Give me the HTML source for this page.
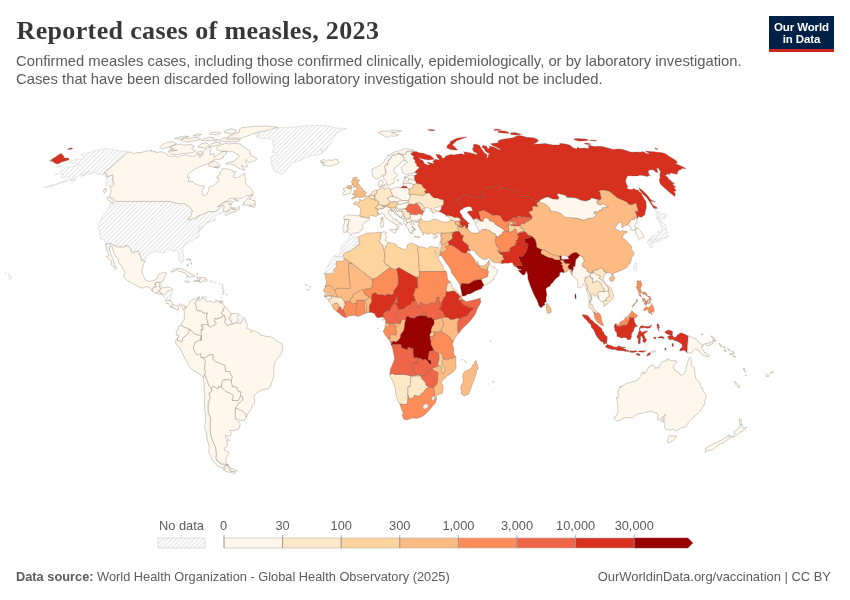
<!DOCTYPE html>
<html lang="en">
<head>
<meta charset="utf-8">
<title>Reported cases of measles, 2023</title>
<style>
  html, body { margin: 0; padding: 0; background: #fff; }
  body { width: 850px; height: 600px; position: relative; overflow: hidden;
         font-family: "Liberation Sans", sans-serif; color: #5b5b5b; }
  .title { position: absolute; left: 16.5px; top: 14.6px; margin: 0; white-space: nowrap;
           font-family: "Liberation Serif", serif; font-weight: bold; font-size: 26px;
           line-height: 32px; color: #373737; letter-spacing: 0.36px; }
  .subtitle { position: absolute; left: 16px; top: 52.2px; margin: 0; white-space: nowrap;
           font-size: 14.8px; line-height: 18px; color: #5b5b5b; }
  .subtitle span { display: block; }
  .logo { position: absolute; left: 769px; top: 16px; width: 65px; height: 35.8px;
          background: linear-gradient(to bottom, #002147 0, #002147 33.1px, #ce261e 33.1px, #ce261e 100%); color: #fff;
          font-weight: bold; font-size: 11.5px; line-height: 12px; text-align: center;
          letter-spacing: -0.12px; }
  .logo span { display: block; }
  .logo span:first-child { padding-top: 5.1px; }
  #map { position: absolute; left: 0; top: 0; width: 850px; height: 600px; }
  .legend text { font-family: "Liberation Sans", sans-serif; font-size: 12.8px; fill: #5b5b5b; }
  .footer { position: absolute; top: 568.6px; font-size: 12.8px; line-height: 16px; color: #5b5b5b; white-space: nowrap; }
  .footer.l { left: 16px; }
  .footer.r { right: 19px; font-size: 12.95px; }
  .footer b { font-weight: bold; }
</style>
</head>
<body>
<h1 class="title">Reported cases of measles, 2023</h1>
<p class="subtitle"><span id="s1">Confirmed measles cases, including those confirmed clinically, epidemiologically, or by laboratory investigation.</span><span id="s2">Cases that have been discarded following laboratory investigation should not be included.</span></p>
<div class="logo"><span>Our World</span><span>in Data</span></div>
<svg id="map" width="850" height="600" viewBox="0 0 850 600">
<defs>
  <pattern id="hatch" patternUnits="userSpaceOnUse" width="4.47" height="4.47">
    <rect width="4.47" height="4.47" fill="#fff"/>
    <path d="M-1,1 l2,-2 M0,4.47 l4.47,-4.47 M3.47,5.47 l2,-2" stroke="#dfdfdf" stroke-width="0.95" fill="none"/>
  </pattern>
</defs>
<g stroke="#56463e" stroke-opacity="0.6" stroke-width="0.45" stroke-linejoin="round">
<path d="M350.1,235.5 351.4,235.2 353.3,237.0 356.4,236.8 358.1,237.3 359.0,238.9 359.2,241.5 360.0,244.6 356.5,245.4 355.0,248.0 352.1,249.3 351.2,250.9 348.5,251.7 346.0,252.2 343.6,254.0 343.6,256.7 333.7,256.7 334.1,256.0 337.6,254.5 340.3,252.2 341.7,249.5 341.1,249.0 341.4,246.7 342.6,244.6 344.3,242.1 346.3,241.2 347.9,240.1 349.5,237.0Z" fill="url(#hatch)" stroke="#c6c6c6" stroke-opacity="1"/>
<path d="M358.1,237.3 360.7,235.7 362.9,235.2 365.7,233.6 369.4,232.9 373.7,232.9 378.0,232.3 381.5,232.6 380.9,235.0 380.8,238.3 379.3,240.7 381.1,244.1 382.8,245.1 383.9,250.0 384.9,252.7 384.7,255.1 385.0,258.7 383.9,260.6 385.9,264.7 388.8,265.5 389.9,267.6 376.1,278.2 372.5,279.0 370.2,279.1 370.2,277.3 365.6,274.9 365.5,273.9 352.1,263.7 343.5,257.7 343.6,256.7 343.6,254.0 346.0,252.2 348.5,251.7 351.2,250.9 352.1,249.3 355.0,248.0 356.5,245.4 360.0,244.6 359.2,241.5 359.0,238.9Z" fill="#fdd49e"/>
<path d="M381.5,232.6 384.0,231.6 385.1,232.1 386.6,232.3 385.8,233.9 385.7,235.7 387.0,237.0 386.2,238.3 385.0,240.2 387.0,241.2 388.1,242.4 388.2,243.8 385.6,246.2 385.7,248.3 383.9,250.0 382.8,245.1 381.1,244.1 379.3,240.7 380.8,238.3 380.9,235.0Z" fill="#fff7ec"/>
<path d="M388.1,242.4 391.9,243.0 396.3,244.4 397.5,247.0 401.6,248.3 405.0,249.8 407.1,248.0 407.1,245.1 410.3,243.0 413.6,243.8 418.0,245.9 418.4,246.6 417.6,250.1 418.4,252.7 419.4,271.5 419.6,276.7 417.3,276.7 417.3,278.1 398.9,267.7 396.7,268.9 394.9,270.0 389.9,267.6 388.8,265.5 385.9,264.7 383.9,260.6 385.0,258.7 384.7,255.1 384.9,252.7 383.9,250.0 385.7,248.3 385.6,246.2 388.2,243.8Z" fill="#fdd49e"/>
<path d="M418.4,246.6 422.9,247.0 427.0,248.4 428.9,247.5 431.2,246.4 434.2,247.2 437.5,247.7 438.5,247.2 440.3,251.9 440.0,253.5 439.6,255.8 439.3,256.6 437.7,255.1 436.7,253.5 435.4,251.4 435.0,250.8 434.7,251.7 435.5,253.5 436.6,255.3 438.4,257.8 438.8,259.1 439.7,260.8 441.3,263.6 443.5,266.6 442.9,268.6 445.6,271.0 446.2,271.5 433.8,271.5 419.4,271.5 418.4,252.7 417.6,250.1Z" fill="#fdd49e"/>
<path d="M446.2,271.5 447.1,274.1 447.3,277.8 447.9,279.9 450.5,282.0 447.2,284.3 446.3,289.6 446.3,291.6 445.7,295.8 443.4,298.2 443.1,300.5 441.7,301.6 441.3,304.3 440.8,304.2 438.9,301.0 439.0,297.1 436.5,297.6 437.2,298.4 436.1,301.6 434.1,303.5 430.9,302.6 429.5,303.7 427.3,304.6 423.8,304.2 420.3,302.1 419.2,306.3 417.9,306.3 416.9,302.6 415.4,300.5 413.8,295.8 412.8,295.6 414.4,292.2 415.2,288.2 417.7,288.0 417.3,278.1 417.3,276.7 419.6,276.7 419.4,271.5 433.8,271.5Z" fill="#fc8d59"/>
<path d="M450.5,282.0 453.0,288.2 454.5,289.0 456.5,290.6 458.3,292.6 460.8,295.0 461.6,295.8 460.1,296.4 457.2,293.5 454.8,291.2 452.3,290.9 450.7,291.4 448.9,291.9 446.3,291.6 446.3,289.6 447.2,284.3Z" fill="#fee8c8"/>
<path d="M461.6,295.8 462.2,297.6 460.6,298.7 461.9,298.7 462.1,299.1 461.5,300.3 458.8,300.3 458.7,299.0 460.1,296.4Z" fill="#fdbb84"/>
<path d="M462.1,299.1 462.7,299.3 466.2,301.7 469.6,300.9 473.5,299.9 475.8,299.5 478.3,298.7 480.5,298.1 480.2,299.7 480.9,301.7 479.9,304.2 477.5,308.1 476.6,310.8 474.7,315.0 471.3,319.6 467.5,323.7 464.4,326.4 461.1,329.9 458.9,333.3 457.5,331.4 457.5,321.7 459.5,318.6 463.2,316.5 466.6,315.9 473.3,308.1 470.8,308.1 464.1,305.5 461.2,302.4 461.5,300.3Z" fill="#ef6548"/>
<path d="M458.9,333.3 457.3,335.0 455.4,337.4 454.4,339.6 453.3,341.2 450.1,338.7 449.6,336.8 441.1,331.6 441.6,328.0 443.7,324.6 442.5,320.9 441.2,318.0 445.7,317.0 448.0,317.4 450.8,319.6 454.7,318.9 457.0,317.9 459.5,318.6 457.5,321.7 457.5,331.4Z" fill="#fdbb84"/>
<path d="M453.3,341.2 453.0,342.3 452.3,344.7 453.4,346.8 453.8,349.4 453.5,352.4 454.1,355.1 455.2,355.9 455.8,356.4 453.1,358.3 450.1,358.5 446.6,359.6 443.1,359.2 442.3,357.7 442.2,355.1 441.0,353.8 438.6,353.6 436.5,352.5 433.7,350.4 432.0,346.8 430.9,344.7 430.7,340.6 433.0,338.4 434.0,335.1 434.0,333.4 433.2,331.8 441.1,331.6 449.6,336.8 450.1,338.7Z" fill="#fc8d59"/>
<path d="M455.8,356.4 456.0,359.0 455.8,362.9 456.2,366.4 456.0,368.3 453.9,371.3 450.6,373.9 447.1,376.0 445.4,378.1 442.0,380.8 441.5,382.6 442.7,385.2 443.1,386.7 442.8,391.4 442.2,393.3 438.3,394.8 435.9,396.8 436.5,397.7 436.4,399.1 434.4,399.1 434.6,396.8 434.6,392.5 433.5,387.5 436.4,384.6 437.7,380.7 437.6,377.3 437.9,372.6 434.3,370.8 432.3,369.8 432.4,368.2 438.4,365.7 438.8,365.6 441.6,366.6 441.7,368.2 441.4,371.6 443.3,373.8 444.6,370.8 444.9,367.9 441.6,364.0 442.2,360.4 443.1,359.2 446.6,359.6 450.1,358.5 453.1,358.3Z" fill="#fdbb84"/>
<path d="M436.4,399.1 435.1,403.2 434.3,404.2 431.7,407.0 430.2,409.3 428.0,411.6 424.1,415.2 421.7,416.8 418.8,417.7 417.1,418.3 414.0,418.0 411.2,418.3 406.4,420.0 405.0,419.4 403.9,418.9 403.2,418.8 403.1,417.6 402.1,415.2 403.2,412.9 401.2,408.4 400.4,405.4 399.5,403.8 401.6,404.0 405.1,404.6 407.4,403.2 407.8,393.7 409.4,399.1 413.5,397.2 414.5,395.1 418.9,396.3 420.8,394.3 423.2,392.2 426.0,388.6 429.2,387.0 433.5,387.5 434.6,392.5 434.6,396.8 433.1,396.3 431.8,399.0 432.6,400.3 434.4,399.1ZM426.6,403.7 424.9,404.5 422.8,406.5 423.5,408.2 425.2,409.1 427.5,407.2 428.3,405.7Z" fill="#fc8d59"/>
<path d="M399.5,403.8 396.8,398.6 395.5,393.0 395.6,389.0 394.4,385.9 393.0,382.0 390.2,376.8 389.7,374.1 392.5,373.4 394.8,374.5 405.0,374.5 411.6,375.9 416.2,375.1 418.0,374.7 420.4,375.5 418.6,376.2 415.9,376.0 410.6,376.8 410.3,386.5 408.1,386.5 407.8,393.7 407.4,403.2 405.1,404.6 401.6,404.0Z" fill="#fee8c8"/>
<path d="M390.7,368.7 393.6,361.9 394.7,358.3 393.3,352.1 393.0,349.5 392.5,347.9 391.3,345.0 391.2,344.7 391.3,344.7 393.1,344.3 401.1,344.3 401.8,347.8 407.5,349.6 407.8,347.3 409.6,347.0 410.3,348.1 413.1,348.1 413.3,350.9 413.4,354.6 414.1,357.7 417.8,357.5 417.9,357.4 417.9,363.0 413.3,363.0 413.1,371.3 416.2,375.1 411.6,375.9 405.0,374.5 394.8,374.5 392.5,373.4 389.7,374.1ZM391.0,343.5 390.4,342.1 390.6,342.1 391.9,340.8 392.9,341.7 391.7,343.9 391.0,344.0Z" fill="#ef6548"/>
<path d="M391.2,344.7 391.0,344.4 391.0,344.0 391.7,343.9 392.9,341.7 393.1,341.0 396.1,341.7 398.2,340.2 400.3,337.6 400.3,334.7 403.5,330.6 404.1,328.2 404.7,322.7 405.8,319.9 405.7,317.8 407.8,315.7 410.4,317.5 414.5,318.2 415.7,316.7 419.1,315.7 421.7,315.2 426.2,315.8 428.4,317.8 430.9,316.9 434.0,319.9 434.4,323.8 431.9,327.4 431.2,330.6 431.2,332.6 430.0,334.0 429.8,336.1 430.2,338.1 430.7,340.6 430.9,344.7 432.0,346.8 433.7,350.4 429.4,351.2 428.8,354.1 428.0,359.8 431.2,360.7 431.1,364.0 429.5,364.0 428.0,361.7 425.3,359.3 422.5,360.1 420.9,358.5 418.7,358.5 417.9,357.4 417.8,357.5 414.1,357.7 413.4,354.6 413.3,350.9 413.1,348.1 410.3,348.1 409.6,347.0 407.8,347.3 407.5,349.6 401.8,347.8 401.1,344.3 393.1,344.3 391.3,344.7Z" fill="#990000"/>
<path d="M390.4,342.1 390.2,341.5 388.5,339.3 390.3,338.4 389.7,336.3 390.6,335.3 391.7,334.2 395.4,335.3 396.1,334.0 396.4,330.6 395.0,329.0 396.4,326.9 395.9,325.6 393.4,325.6 393.6,323.4 396.4,323.3 397.5,323.8 400.3,323.3 401.2,319.9 402.8,319.6 405.8,319.9 404.7,322.7 404.1,328.2 403.5,330.6 400.3,334.7 400.3,337.6 398.2,340.2 396.1,341.7 393.1,341.0 392.9,341.7 391.9,340.8 390.6,342.1Z" fill="#fdbb84"/>
<path d="M388.5,339.3 387.5,337.9 385.4,335.5 383.0,330.6 384.4,329.8 384.7,328.0 385.1,326.4 385.5,326.4 389.1,326.4 389.1,323.3 391.3,323.0 393.6,323.4 393.4,325.6 395.9,325.6 396.4,326.9 395.0,329.0 396.4,330.6 396.1,334.0 395.4,335.3 391.7,334.2 390.6,335.3 389.7,336.3 390.3,338.4Z" fill="#fc8d59"/>
<path d="M385.4,324.1 385.5,322.9 389.1,323.3 389.1,326.4 385.5,326.4 385.1,326.4ZM383.0,319.2 383.6,319.9 383.0,320.5 382.3,319.9Z" fill="#fdbb84"/>
<path d="M385.5,322.9 385.7,321.3 384.8,318.8 384.1,318.5 383.4,317.2 382.7,317.2 383.4,313.8 385.5,311.2 387.3,310.7 390.1,310.5 391.0,307.1 393.2,303.9 395.5,299.7 396.4,297.1 395.1,294.8 397.1,297.1 397.6,300.5 398.5,302.9 395.1,303.1 397.9,306.8 398.5,309.4 396.5,312.8 396.3,315.9 397.5,318.8 400.0,321.4 400.3,323.3 397.5,323.8 396.4,323.3 393.6,323.4 391.3,323.0 389.1,323.3Z" fill="#ef6548"/>
<path d="M382.7,317.2 382.0,317.1 379.0,317.5 377.2,317.8 375.2,315.0 374.2,313.3 370.7,312.3 369.2,312.4 369.3,305.5 371.6,301.6 371.2,298.4 371.4,296.3 372.3,293.7 375.5,292.8 378.7,295.0 381.2,294.3 384.9,295.6 387.4,294.1 391.5,294.8 394.0,293.2 395.1,294.8 396.4,297.1 395.5,299.7 393.2,303.9 391.0,307.1 390.1,310.5 387.3,310.7 385.5,311.2 383.4,313.8Z" fill="#d7301f"/>
<path d="M369.2,312.4 368.5,312.4 367.0,312.7 367.0,312.7 366.6,311.0 366.6,305.5 364.7,302.1 365.0,300.3 368.4,297.9 369.4,296.9 371.2,298.4 371.6,301.6 369.3,305.5Z" fill="#fdbb84"/>
<path d="M367.0,312.7 365.7,313.0 365.7,313.0 365.7,313.0 364.3,309.7 364.0,304.4 362.9,301.3 362.6,300.0 365.0,300.3 364.7,302.1 366.6,305.5 366.6,311.0 367.0,312.7Z" fill="#fdbb84"/>
<path d="M365.7,313.0 365.2,313.6 362.4,314.5 360.0,315.7 358.9,316.2 358.1,316.6 355.8,315.7 356.6,314.4 355.5,311.2 356.7,308.1 356.6,303.8 356.5,300.3 362.6,300.0 362.9,301.3 364.0,304.4 364.3,309.7 365.7,313.0Z" fill="#fc8d59"/>
<path d="M355.8,315.7 353.7,315.3 348.8,316.1 346.0,317.5 345.5,317.5 345.5,316.2 345.6,313.6 343.8,312.0 343.4,309.2 344.0,306.8 345.2,304.4 344.6,302.4 348.7,301.0 350.2,301.8 352.1,303.7 355.5,303.1 356.6,303.8 356.7,308.1 355.5,311.2 356.6,314.4Z" fill="#fc8d59"/>
<path d="M345.5,317.5 345.1,317.6 342.0,315.9 339.7,313.6 338.0,312.5 336.7,311.4 336.4,310.9 338.5,308.6 339.3,306.8 341.0,307.2 341.5,309.7 343.4,309.2 343.8,312.0 345.6,313.6 345.5,316.2Z" fill="#ef6548"/>
<path d="M336.4,310.9 334.1,309.4 332.4,306.8 332.3,305.5 334.2,303.3 337.2,302.9 338.5,304.7 339.3,306.8 338.5,308.6Z" fill="#fdbb84"/>
<path d="M332.3,305.5 331.4,304.1 329.4,302.4 328.5,300.4 329.2,299.0 331.5,298.4 331.5,295.9 332.9,296.1 334.5,296.7 336.8,296.6 338.4,297.6 341.6,296.9 342.7,299.0 343.9,300.3 344.6,302.4 345.2,304.4 344.0,306.8 343.4,309.2 341.5,309.7 341.0,307.2 339.3,306.8 338.5,304.7 337.2,302.9 334.2,303.3Z" fill="#fee8c8"/>
<path d="M328.5,300.4 326.2,298.2 325.5,297.1 324.6,296.8 328.1,295.9 331.5,295.9 331.5,298.4 329.2,299.0Z" fill="#fff7ec"/>
<path d="M324.6,296.8 324.4,296.2 324.5,294.9 326.7,294.6 328.3,293.7 331.3,294.3 331.3,293.6 328.3,292.9 327.4,293.5 325.0,293.5 324.5,291.9 322.9,290.5 323.8,290.1 325.3,287.1 325.7,285.9 328.5,285.6 330.3,285.5 332.1,286.7 333.4,288.5 334.9,290.4 335.4,292.4 336.8,295.0 336.8,296.6 334.5,296.7 332.9,296.1 331.5,295.9 328.1,295.9Z" fill="#fdbb84"/>
<path d="M324.5,294.9 324.9,293.9 325.0,293.5 327.4,293.5 328.3,292.9 331.3,293.6 331.3,294.3 328.3,293.7 326.7,294.6Z" fill="url(#hatch)" stroke="#c6c6c6" stroke-opacity="1"/>
<path d="M325.3,287.1 326.5,281.7 325.5,278.3 325.8,275.2 324.3,274.7 324.6,273.3 333.3,273.3 333.6,269.4 334.5,268.1 335.9,267.7 336.0,261.1 343.5,261.1 343.5,257.7 352.1,263.7 348.3,263.7 350.1,285.9 350.7,286.4 350.1,288.5 341.7,288.5 341.6,288.0 338.5,288.8 336.6,288.2 335.9,290.1 334.9,290.4 333.4,288.5 332.1,286.7 330.3,285.5 328.5,285.6 325.7,285.9Z" fill="#fdbb84"/>
<path d="M324.3,274.7 324.5,273.1 326.9,267.2 330.4,260.7 333.0,258.2 333.7,256.7 343.6,256.7 343.5,257.7 343.5,261.1 336.0,261.1 335.9,267.7 334.5,268.1 333.6,269.4 333.3,273.3 324.6,273.3Z" fill="url(#hatch)" stroke="#c6c6c6" stroke-opacity="1"/>
<path d="M352.1,263.7 365.5,273.9 365.6,274.9 370.2,277.3 370.2,279.1 372.5,279.0 372.6,284.8 370.9,288.8 365.9,289.0 363.4,290.0 361.3,289.6 358.3,291.9 355.3,293.2 353.1,294.5 352.8,297.4 351.0,298.2 350.2,301.8 348.7,301.0 344.6,302.4 343.9,300.3 342.7,299.0 341.6,296.9 338.4,297.6 336.8,296.6 336.8,295.0 335.4,292.4 334.9,290.4 335.9,290.1 336.6,288.2 338.5,288.8 341.6,288.0 341.7,288.5 350.1,288.5 350.7,286.4 350.1,285.9 348.3,263.7Z" fill="#fdbb84"/>
<path d="M372.5,279.0 376.1,278.2 389.9,267.6 394.9,270.0 396.7,268.9 398.3,276.7 398.2,284.8 393.8,291.1 394.0,293.2 391.5,294.8 387.4,294.1 384.9,295.6 381.2,294.3 378.7,295.0 375.5,292.8 372.3,293.7 371.4,296.3 371.2,298.4 369.4,296.9 368.4,297.9 367.7,295.8 365.2,295.0 363.8,292.4 363.4,290.0 365.9,289.0 370.9,288.8 372.6,284.8Z" fill="#fc8d59"/>
<path d="M396.7,268.9 398.9,267.7 417.3,278.1 417.7,288.0 415.2,288.2 414.4,292.2 412.8,295.6 413.8,295.8 415.4,300.5 412.7,301.3 409.8,305.2 406.6,306.0 405.7,307.8 401.6,309.4 398.5,309.4 397.9,306.8 395.1,303.1 398.5,302.9 397.6,300.5 397.1,297.1 395.1,294.8 394.0,293.2 393.8,291.1 398.2,284.8 398.3,276.7Z" fill="#d7301f"/>
<path d="M350.2,301.8 351.0,298.2 352.8,297.4 353.1,294.5 355.3,293.2 358.3,291.9 361.3,289.6 363.4,290.0 363.8,292.4 365.2,295.0 367.7,295.8 368.4,297.9 365.0,300.3 362.6,300.0 356.5,300.3 356.6,303.8 355.5,303.1 352.1,303.7Z" fill="#fdbb84"/>
<path d="M398.5,309.4 401.6,309.4 405.7,307.8 406.6,306.0 409.8,305.2 412.7,301.3 415.4,300.5 416.9,302.6 417.9,306.3 420.9,309.4 423.9,313.3 426.2,315.8 421.7,315.2 419.1,315.7 415.7,316.7 414.5,318.2 410.4,317.5 407.8,315.7 405.7,317.8 405.8,319.9 402.8,319.6 401.2,319.9 400.3,323.3 400.0,321.4 397.5,318.8 396.3,315.9 396.5,312.8Z" fill="#ef6548"/>
<path d="M417.9,306.3 419.2,306.3 420.3,302.1 423.8,304.2 427.3,304.6 429.5,303.7 430.9,302.6 434.1,303.5 436.1,301.6 437.2,298.4 436.5,297.6 439.0,297.1 438.9,301.0 440.8,304.2 441.3,304.3 441.3,306.5 438.8,308.6 442.8,311.5 444.7,314.9 445.7,317.0 441.2,318.0 437.6,319.2 434.0,319.9 430.9,316.9 428.4,317.8 426.2,315.8 423.9,313.3 420.9,309.4Z" fill="#ef6548"/>
<path d="M441.3,304.3 441.7,301.6 443.1,300.5 443.4,298.2 445.7,295.8 446.3,291.6 448.9,291.9 450.7,291.4 452.3,290.9 454.8,291.2 457.2,293.5 460.1,296.4 458.7,299.0 458.8,300.3 461.5,300.3 461.2,302.4 464.1,305.5 470.8,308.1 473.3,308.1 466.6,315.9 463.2,316.5 459.5,318.6 457.0,317.9 454.7,318.9 450.8,319.6 448.0,317.4 445.7,317.0 444.7,314.9 442.8,311.5 438.8,308.6 441.3,306.5Z" fill="#d7301f"/>
<path d="M441.2,318.0 442.5,320.9 443.7,324.6 441.6,328.0 441.1,331.6 433.2,331.8 432.1,332.7 431.2,332.6 431.2,330.6 431.9,327.4 434.4,323.8 434.0,319.9 437.6,319.2Z" fill="#fdbb84"/>
<path d="M417.9,357.4 418.7,358.5 420.9,358.5 422.5,360.1 425.3,359.3 428.0,361.7 429.5,364.0 431.1,364.0 431.2,360.7 428.0,359.8 428.8,354.1 429.4,351.2 433.7,350.4 436.5,352.5 438.6,353.6 439.4,356.7 439.3,359.3 438.5,361.9 437.7,364.5 438.8,365.6 438.4,365.7 432.4,368.2 432.3,369.8 428.8,370.8 424.3,375.9 420.4,375.5 418.0,374.7 416.2,375.1 413.1,371.3 413.3,363.0 417.9,363.0Z" fill="#ef6548"/>
<path d="M430.7,340.6 430.2,338.1 429.8,336.1 431.6,336.3 434.0,335.1 433.0,338.4Z" fill="#fc8d59"/>
<path d="M429.8,336.1 430.0,334.0 431.2,332.6 432.1,332.7 433.2,331.8 434.0,333.4 434.0,335.1 431.6,336.3Z" fill="#fdd49e"/>
<path d="M407.8,393.7 408.1,386.5 410.3,386.5 410.6,376.8 415.9,376.0 418.6,376.2 420.4,375.5 421.9,378.6 425.6,382.6 426.2,385.4 429.2,387.0 426.0,388.6 423.2,392.2 420.8,394.3 418.9,396.3 414.5,395.1 413.5,397.2 409.4,399.1Z" fill="#fee8c8"/>
<path d="M420.4,375.5 424.3,375.9 428.8,370.8 432.3,369.8 434.3,370.8 437.9,372.6 437.6,377.3 437.7,380.7 436.4,384.6 433.5,387.5 429.2,387.0 426.2,385.4 425.6,382.6 421.9,378.6Z" fill="#ef6548"/>
<path d="M438.8,365.6 437.7,364.5 438.5,361.9 439.3,359.3 439.4,356.7 438.6,353.6 441.0,353.8 442.2,355.1 442.3,357.7 443.1,359.2 442.2,360.4 441.6,364.0 444.9,367.9 444.6,370.8 443.3,373.8 441.4,371.6 441.7,368.2 441.6,366.6Z" fill="#fdd49e"/>
<path d="M434.4,399.1 432.6,400.3 431.8,399.0 433.1,396.3 434.6,396.8Z" fill="url(#hatch)" stroke="#c6c6c6" stroke-opacity="1"/>
<path d="M426.6,403.7 428.3,405.7 427.5,407.2 425.2,409.1 423.5,408.2 422.8,406.5 424.9,404.5Z" fill="url(#hatch)" stroke="#c6c6c6" stroke-opacity="1"/>
<path d="M475.9,360.4 477.3,364.3 478.2,369.0 476.4,369.8 476.4,372.9 475.3,376.0 473.5,381.3 471.0,387.8 468.7,394.1 464.3,395.9 461.7,394.3 460.6,387.3 461.7,384.6 463.5,381.3 462.9,377.3 463.1,373.4 465.1,371.3 468.6,370.0 471.5,367.7 472.7,364.8 474.6,363.7 474.7,361.4Z" fill="#fdbb84"/>
<path d="M438.5,247.2 438.9,246.4 439.3,245.1 439.6,243.3 439.8,242.5 440.9,242.1 441.5,242.8 441.4,243.4 441.0,244.4 441.3,246.7 441.1,248.3 440.6,251.9 440.4,251.8 440.3,251.9Z" fill="url(#hatch)" stroke="#c6c6c6" stroke-opacity="1"/>
<path d="M439.8,242.5 440.5,240.4 440.9,238.9 441.2,238.5 442.3,238.6 442.8,239.7 441.7,241.2 441.4,241.7 440.9,242.1Z" fill="#fdd49e"/>
<path d="M441.2,238.5 440.5,236.3 440.7,235.1 441.3,235.3 441.7,234.3 442.0,232.7 443.9,233.3 446.2,232.7 449.3,232.9 451.3,232.1 454.2,232.1 453.2,233.4 452.2,233.9 452.6,238.1 452.2,239.1 447.9,241.8 443.8,244.6 441.7,243.6 441.4,243.4 441.5,242.8 440.9,242.1 441.4,241.7 441.7,241.2 442.8,239.7 442.3,238.6Z" fill="#fdbb84"/>
<path d="M440.7,235.1 441.1,233.4 441.0,232.6 439.2,233.4 437.6,232.9 436.3,234.2 434.0,234.9 432.1,233.6 429.2,232.7 428.9,234.2 428.7,234.4 425.8,233.4 423.8,232.9 422.1,233.1 422.0,232.3 421.3,230.0 419.3,229.0 420.5,228.6 420.2,227.1 419.7,226.4 418.4,225.9 418.6,224.5 418.6,224.3 419.7,223.0 418.1,222.6 419.1,221.0 418.5,220.1 420.3,219.1 421.8,219.4 421.9,219.6 423.3,220.9 424.4,221.4 426.9,221.4 429.2,221.2 430.0,220.8 431.2,220.0 433.9,219.4 436.9,219.2 438.8,220.1 439.7,221.2 441.8,221.6 443.1,221.9 444.2,222.2 446.9,221.9 448.6,221.8 450.3,220.9 450.6,220.6 453.2,220.4 454.8,221.6 455.5,222.7 455.6,224.3 458.3,225.3 457.6,226.1 457.9,228.7 458.5,230.3 459.5,232.0 458.1,231.6 455.5,231.4 454.2,232.1 451.3,232.1 449.3,232.9 446.2,232.7 443.9,233.3 442.0,232.7 441.7,234.3 441.3,235.3Z" fill="#fdd49e"/>
<path d="M417.5,236.6 419.0,236.8 420.0,236.8 419.7,237.6 417.3,237.7 415.1,237.0 414.1,236.9 414.0,236.3 415.2,236.1ZM423.8,235.0 423.2,235.1 423.0,234.4 423.9,233.8ZM415.7,229.7 414.4,229.0 413.2,227.9 412.7,227.3 414.7,228.2ZM413.1,222.7 414.5,224.0 413.3,224.7 412.4,223.9 411.5,223.1 410.8,223.2 411.0,224.5 411.7,225.6 412.7,226.6 411.8,226.4 412.1,227.4 413.5,228.4 414.5,229.2 414.6,230.7 413.6,229.9 412.3,230.0 413.5,231.3 411.9,230.9 413.1,233.8 411.7,232.9 411.5,233.9 410.6,232.3 410.2,233.1 409.6,232.3 408.7,230.7 408.2,230.1 409.0,229.2 408.1,229.0 407.3,227.7 407.2,227.1 406.0,225.8 405.5,225.3 406.7,224.3 407.3,222.3 409.1,222.2 411.4,221.1 414.6,220.5 416.4,221.3 418.5,220.1 419.1,221.0 418.1,222.6 417.7,222.3 414.5,222.1ZM418.7,227.1 418.2,226.6 419.2,226.2 419.7,227.0Z" fill="#fff7ec"/>
<path d="M405.5,225.3 405.4,224.8 403.9,223.5 404.0,221.2 403.7,219.7 404.0,218.1 405.0,217.9 406.3,219.7 406.2,221.2 407.3,222.3 406.7,224.3Z" fill="#fff7ec"/>
<path d="M403.7,219.7 401.7,218.2 401.7,218.2 401.6,217.9 402.0,216.1 403.0,215.5 405.5,217.2 405.0,217.9 404.0,218.1Z" fill="#fff7ec"/>
<path d="M401.7,218.2 400.9,217.7 398.5,216.5 397.1,215.5 394.5,213.9 393.7,211.6 392.6,210.9 391.7,212.1 391.0,210.4 393.0,210.0 394.4,210.3 395.0,208.5 396.9,207.8 398.5,209.2 401.8,209.3 402.3,210.9 402.2,212.0 400.1,211.4 397.8,211.0 395.5,211.1 395.5,212.1 396.6,213.7 399.0,215.7 399.9,217.0 401.6,217.9Z" fill="#fff7ec"/>
<path d="M391.0,210.4 390.9,210.3 391.1,210.2 391.3,210.0 391.0,209.9 390.9,209.6 390.7,209.1 391.0,207.7 392.7,208.0 394.9,207.3 395.8,206.8 396.9,207.8 395.0,208.5 394.4,210.3 393.0,210.0Z" fill="#fff7ec"/>
<path d="M395.4,231.0 395.9,232.2 395.5,233.3 394.0,232.9 392.1,231.6 389.7,230.3 389.8,229.6 390.3,229.4 391.5,229.4 393.0,229.6 395.1,229.4 396.5,229.1ZM383.5,224.8 383.3,226.8 382.3,226.6 381.8,227.4 380.8,226.9 380.8,224.8 380.5,223.1 380.3,222.1 381.5,222.1 382.3,221.3 383.7,223.2ZM388.3,210.6 388.8,211.9 388.4,213.2 389.1,214.2 391.1,215.2 392.7,218.2 394.5,219.5 397.0,219.6 396.4,220.4 398.6,221.7 401.1,222.9 402.2,224.2 402.0,225.1 401.2,224.4 399.4,223.4 398.2,224.3 398.0,225.3 399.5,226.9 398.3,227.9 398.3,229.0 397.4,229.9 396.5,229.6 396.8,228.1 397.3,227.1 396.2,224.5 395.4,224.5 394.3,222.9 393.2,223.0 393.1,222.3 391.6,221.4 390.5,221.4 388.6,220.0 387.6,219.1 386.2,218.3 384.9,216.9 384.4,215.4 384.1,214.5 383.4,214.1 381.4,213.2 380.0,214.3 378.5,214.8 378.9,213.7 377.2,213.2 377.4,211.4 376.9,209.4 377.4,209.3 379.0,209.3 380.2,207.9 381.4,209.4 382.0,207.9 383.6,208.4 384.3,206.9 385.8,206.6 387.8,206.4 388.3,207.3 391.0,207.7 390.7,209.1 390.9,209.6 391.0,209.9 389.9,209.8Z" fill="#fff7ec"/>
<path d="M383.0,219.1 382.7,220.4 382.3,221.0 381.5,220.4 381.0,219.4 380.9,218.3 381.3,217.8 382.4,217.6 382.6,216.8ZM378.0,215.0 376.8,216.1 375.3,216.5 374.1,216.0 372.9,215.9 371.5,215.4 370.6,215.7 369.3,216.8 369.3,217.9 369.5,218.2 367.1,218.3 365.9,217.8 364.4,217.3 361.4,217.0 360.0,216.6 359.1,215.8 359.8,215.5 360.3,212.5 360.6,210.2 360.5,208.7 358.5,206.6 358.4,205.9 357.2,205.2 356.0,204.7 354.0,204.5 353.3,203.1 354.8,202.2 356.8,201.9 358.9,202.3 359.8,202.3 359.7,200.7 359.0,199.6 360.4,199.6 360.7,200.5 363.1,200.1 365.1,199.0 366.0,197.0 366.6,196.5 368.0,196.1 369.3,197.1 371.3,199.0 372.6,198.5 374.6,200.0 375.7,200.2 377.0,200.9 379.4,201.5 378.3,204.0 378.4,205.0 377.0,205.7 375.4,208.0 375.6,208.5 376.8,208.0 377.4,209.3 376.9,209.4 377.4,211.4 377.2,213.2 378.9,213.7 378.5,214.8Z" fill="#fdd49e"/>
<path d="M369.5,218.2 369.8,218.6 369.6,219.6 367.5,220.9 365.4,221.7 364.7,222.7 362.9,224.5 362.2,226.0 363.4,227.8 361.8,228.8 361.4,230.7 360.7,230.8 358.8,232.5 358.1,233.1 357.6,232.7 355.3,233.1 353.4,233.1 351.3,234.6 350.8,235.0 349.3,233.6 349.1,232.9 347.9,231.8 347.0,231.8 346.8,230.9 347.9,229.2 347.9,226.9 346.9,225.4 348.0,225.3 348.5,223.8 348.3,221.9 349.8,220.4 349.0,219.5 347.7,219.6 345.8,219.9 345.7,219.1 344.3,219.7 344.2,219.1 343.5,217.1 345.4,215.7 346.9,214.8 350.7,215.1 355.0,215.5 356.7,215.7 359.1,215.8 360.0,216.6 361.4,217.0 364.4,217.3 365.9,217.8 367.1,218.3Z" fill="#fff7ec"/>
<path d="M347.0,231.8 345.9,232.3 343.5,232.3 343.8,229.9 343.2,228.7 342.6,227.8 343.0,226.2 344.0,224.2 344.6,221.6 344.3,219.7 345.7,219.1 345.8,219.9 347.7,219.6 349.0,219.5 349.8,220.4 348.3,221.9 348.5,223.8 348.0,225.3 346.9,225.4 347.9,226.9 347.9,229.2 346.8,230.9Z" fill="#fff7ec"/>
<path d="M368.0,196.1 369.2,195.5 369.6,195.4 371.4,195.5 372.8,195.2 374.4,196.0 374.3,196.9 374.9,197.0 375.5,197.6 375.1,198.5 374.4,198.9 374.6,200.0 372.6,198.5 371.3,199.0 369.3,197.1Z" fill="#fee8c8"/>
<path d="M369.6,195.4 370.2,194.6 370.8,193.8 371.9,192.7 372.2,191.5 373.5,190.9 375.0,190.4 376.4,190.2 377.0,190.8 376.8,193.1 376.3,194.0 374.8,194.2 375.0,195.1 374.9,197.0 374.3,196.9 374.4,196.0 372.8,195.2 371.4,195.5Z" fill="#fee8c8"/>
<path d="M377.0,190.8 376.5,189.9 378.5,189.6 379.5,190.0 379.8,189.1 380.4,189.1 380.1,188.6 379.6,188.0 379.6,186.6 381.1,186.8 382.3,187.6 382.6,188.0 384.4,187.9 384.0,189.0 385.2,189.1 386.4,188.5 387.1,187.7 388.3,188.1 388.8,187.2 390.5,189.1 391.0,190.6 390.6,191.7 391.6,192.3 392.0,193.7 392.6,195.6 392.4,196.7 391.3,196.2 388.9,197.7 387.1,198.1 388.0,199.1 388.7,200.5 390.9,202.0 389.2,203.2 388.8,203.7 389.4,205.0 387.7,205.0 385.3,205.5 383.7,205.7 382.3,205.2 380.4,204.7 378.4,205.0 378.3,204.0 379.4,201.5 377.0,200.9 375.7,200.2 375.9,199.4 375.1,198.5 375.5,197.6 374.9,197.0 375.0,195.1 374.8,194.2 376.3,194.0 376.8,193.1Z" fill="#fee8c8"/>
<path d="M383.4,185.0 383.7,186.1 382.4,186.3 381.7,185.2ZM385.3,184.0 386.4,183.7 387.0,184.7 385.6,186.4 384.4,185.6 384.2,184.7ZM378.4,183.9 378.4,182.5 379.2,181.2 381.7,180.1 382.8,179.7 382.7,180.5 382.4,181.6 383.6,182.8 382.4,183.6 381.7,185.2 381.2,185.9 381.1,186.8 379.6,186.6 378.4,185.0Z" fill="#fff7ec"/>
<path d="M390.5,189.1 393.1,188.4 395.5,187.4 398.2,186.8 399.2,187.4 399.0,188.0 400.9,187.7 407.1,188.0 408.6,189.0 409.8,192.1 408.6,193.1 409.4,193.6 409.7,195.1 410.9,196.7 410.2,197.9 408.5,199.9 408.3,201.2 405.1,200.4 403.4,200.7 402.8,200.9 400.8,200.1 398.3,198.1 396.7,197.9 395.4,197.2 393.3,196.4 392.4,196.7 392.6,195.6 392.0,193.7 391.6,192.3 390.6,191.7 391.0,190.6Z" fill="#fff7ec"/>
<path d="M400.9,187.7 401.4,187.2 402.4,186.5 403.4,185.7 405.3,186.3 406.9,186.6 407.1,188.0ZM68.5,158.1 68.9,159.8 68.7,160.1 65.0,161.1 61.6,162.0 58.9,163.6 57.2,164.1 54.6,163.0 53.0,161.6 50.9,161.3 53.1,159.5 49.3,161.1 60.8,153.5 61.6,153.7 62.7,155.0 64.3,156.8 63.5,157.9ZM68.3,149.4 67.6,149.4 69.9,148.0 72.3,148.0 72.3,148.9ZM467.0,136.9 464.7,137.7 461.2,139.1 456.9,140.7 454.3,142.8 452.3,144.9 453.9,146.3 455.7,148.0 457.6,150.0 454.3,150.0 449.8,149.3 446.8,147.8 447.0,147.0 447.5,144.9 449.9,143.4 450.4,141.5 453.4,140.1 456.8,138.3 461.5,137.5ZM503.9,130.9 508.3,132.0 508.6,133.3 502.5,133.1 497.7,132.2 498.7,130.7ZM431.5,130.7 427.5,130.0 429.3,129.5 433.7,129.7 435.0,130.6ZM498.0,130.2 494.0,130.4 494.1,129.4 497.2,129.0 501.3,130.0ZM650.9,201.4 653.1,205.2 656.4,207.0 657.7,209.1 655.2,207.5 655.2,209.3 653.3,207.5 651.1,204.0 649.4,201.4 646.5,197.6 643.2,194.6 641.7,192.6 640.0,190.4 639.1,188.4 639.3,187.9 641.9,190.1 644.7,192.6 648.5,196.4 649.9,198.9 655.4,202.3 650.7,200.7ZM416.2,165.4 416.9,164.3 415.0,162.7 415.3,160.9 412.9,158.2 413.9,156.4 410.9,154.6 411.4,153.4 413.0,152.0 414.2,151.7 416.2,151.4 418.9,152.8 423.2,153.3 427.1,154.8 430.2,155.4 433.3,157.9 434.1,159.3 432.1,159.5 428.8,160.1 424.2,159.3 421.4,158.6 418.4,157.6 419.8,159.1 422.9,160.7 423.9,162.6 424.2,163.6 427.6,165.0 430.5,165.0 428.7,164.0 427.3,162.1 429.6,162.8 433.0,163.5 434.2,163.5 432.7,161.3 433.8,160.4 435.4,159.3 439.2,160.2 439.2,159.1 437.4,157.5 435.8,154.3 439.7,154.7 441.6,156.1 442.0,158.3 444.4,157.9 445.9,156.1 447.7,155.5 450.6,154.6 454.3,155.1 455.7,154.6 459.4,154.1 462.0,153.7 464.4,155.0 464.5,153.3 463.6,151.7 470.8,152.9 473.8,153.7 477.4,155.0 476.3,152.4 474.4,152.2 473.0,150.2 472.4,148.7 473.7,147.0 473.4,145.3 474.1,144.0 476.8,144.5 479.4,145.3 480.9,148.0 482.7,150.2 484.1,152.8 487.2,154.8 487.0,156.6 486.4,158.4 488.1,157.3 488.6,154.4 489.9,153.7 487.0,152.6 485.0,150.8 484.6,149.1 482.1,147.4 482.8,145.3 487.0,146.6 487.4,148.5 489.9,148.5 488.9,146.3 493.0,146.8 497.7,149.1 500.5,150.6 499.9,149.1 496.9,147.4 492.3,145.3 490.6,143.8 498.4,142.8 498.1,140.7 501.5,139.5 508.1,138.5 513.3,137.7 515.2,136.8 518.4,135.4 522.4,136.0 526.5,137.3 533.1,137.7 536.9,138.9 538.5,140.7 536.2,142.8 533.1,144.2 538.4,144.0 542.9,143.8 544.8,143.4 552.9,144.9 556.1,144.9 559.6,145.1 559.8,143.4 564.3,143.8 569.6,145.1 572.4,147.0 572.1,147.6 576.7,149.1 577.2,147.6 577.8,147.2 579.7,148.3 582.1,148.3 584.3,148.0 587.3,148.5 589.2,148.0 588.6,146.6 588.2,145.2 589.7,145.5 594.4,146.6 598.2,146.3 602.5,146.6 606.8,147.8 613.2,149.4 617.5,149.0 621.9,149.2 627.6,151.1 630.0,151.9 632.0,152.2 635.8,151.9 641.1,152.2 642.2,151.4 644.5,152.2 645.8,153.3 649.1,154.1 649.0,153.0 646.5,151.9 645.5,151.1 650.3,151.6 655.8,151.9 661.0,152.6 665.0,153.5 676.5,161.1 677.3,162.5 677.0,163.3 674.9,163.1 674.9,163.6 676.4,164.1 681.4,166.2 684.3,167.4 685.7,168.8 682.2,168.3 681.1,169.5 679.0,170.0 677.8,171.8 676.9,174.3 671.1,173.0 669.5,173.3 669.8,174.7 667.1,173.5 667.2,174.7 664.7,174.9 666.7,176.6 668.9,179.0 667.6,179.5 670.3,179.8 671.3,181.5 674.7,183.7 672.4,183.7 674.2,185.9 675.9,187.0 674.1,187.6 676.1,191.1 673.6,191.4 675.4,193.8 674.7,196.6 669.8,192.6 664.0,187.6 660.4,183.9 659.5,181.2 659.1,179.5 660.3,178.1 659.8,175.2 660.2,173.3 660.3,171.1 658.5,168.8 659.2,168.1 656.5,168.3 657.2,170.2 657.9,172.8 655.5,171.8 653.3,169.7 649.1,170.0 648.2,171.4 649.1,174.7 650.7,176.1 649.0,175.4 647.3,176.4 645.2,176.1 642.0,175.3 638.6,175.2 638.4,175.9 633.8,175.9 628.4,175.8 627.1,176.6 626.2,178.6 625.5,180.7 625.9,182.8 627.9,186.9 626.3,187.9 629.7,189.6 632.4,189.4 633.5,188.4 636.4,190.1 639.2,190.6 638.2,191.0 641.6,193.3 641.9,195.1 644.3,198.9 645.9,201.5 646.3,205.7 646.3,207.8 645.3,211.5 644.8,214.8 641.4,217.3 638.8,216.5 637.2,217.7 637.5,218.6 637.1,218.3 636.9,215.7 636.1,214.2 635.1,210.9 638.2,211.6 636.6,205.5 635.8,203.1 632.4,204.7 629.3,204.7 626.4,201.7 623.3,200.4 617.8,198.2 610.5,192.3 608.8,191.2 603.9,190.0 600.3,190.6 598.3,191.8 600.2,192.3 600.5,194.6 601.4,198.9 599.6,200.1 596.9,199.3 591.3,198.1 589.8,199.9 585.9,201.0 581.4,200.5 575.9,198.0 573.3,197.7 566.9,197.4 565.7,195.6 558.0,193.6 557.3,195.2 559.1,197.6 558.1,199.5 552.4,198.9 547.9,196.9 545.4,197.4 542.4,199.0 540.2,200.1 539.7,201.0 538.8,201.0 534.2,199.9 528.7,196.4 522.4,196.9 515.1,190.6 511.3,188.4 508.2,190.1 505.7,188.9 501.0,188.4 499.0,185.6 494.3,186.4 489.2,188.0 483.5,188.7 482.5,191.6 481.3,193.8 483.8,195.1 485.4,196.9 481.6,197.5 479.4,196.2 477.2,196.1 474.0,197.5 471.3,196.4 469.1,195.9 466.9,195.1 463.4,194.6 460.2,197.4 460.3,199.1 457.7,197.7 457.1,200.5 457.5,200.9 457.0,202.8 458.3,203.2 460.7,204.6 462.3,207.0 463.4,208.0 462.6,209.1 461.1,209.8 459.9,210.6 459.9,212.7 461.6,214.7 462.3,216.8 464.5,219.2 465.2,219.7 464.1,221.4 462.8,221.2 461.4,219.9 460.7,219.6 458.8,218.1 457.0,217.4 455.0,217.8 451.7,216.3 448.0,215.5 446.4,215.8 445.7,215.2 444.1,213.9 441.2,212.4 440.1,211.9 438.5,211.1 440.1,210.7 441.3,208.9 441.3,207.3 443.1,206.2 442.3,206.0 440.9,206.2 443.8,204.3 443.5,204.0 443.4,199.9 439.1,199.1 437.8,198.1 434.0,197.9 431.2,195.7 429.4,193.0 425.6,193.6 424.3,190.9 426.7,190.2 424.6,188.6 422.4,186.9 422.1,184.9 420.7,184.3 416.6,183.6 415.2,180.7 414.5,180.2 414.4,178.3 414.1,176.9 414.9,175.5 415.4,174.9 416.4,174.3 418.6,174.3 417.5,173.7 415.4,172.6 413.9,172.9 415.7,171.1 419.4,167.4ZM655.5,149.1 655.1,148.0 655.9,148.0 658.2,149.4ZM591.1,144.2 588.2,144.5 584.9,144.0 584.5,143.0 588.0,143.2ZM595.8,141.1 590.2,140.5 590.0,139.9 593.0,139.9 596.7,140.5ZM575.1,140.1 573.7,138.9 576.1,138.5 580.3,138.7 585.5,139.1 588.7,140.1 585.8,140.7 582.3,140.9 578.7,141.1ZM516.7,135.0 511.3,134.8 510.3,132.9 514.8,132.6 521.6,134.3Z" fill="#d7301f"/>
<path d="M403.4,185.7 403.3,184.7 403.1,183.8 404.8,182.9 408.6,183.1 410.5,183.2 413.9,184.7 414.0,185.6 412.7,186.6 412.3,188.1 410.3,189.1 408.6,189.0 407.1,188.0 406.9,186.6 405.3,186.3Z" fill="#fff7ec"/>
<path d="M403.1,183.8 402.9,182.7 403.3,181.5 403.6,180.5 405.4,179.7 406.7,180.7 408.0,181.6 408.5,181.4 408.7,179.4 410.4,178.9 411.8,179.4 414.5,180.2 415.2,180.7 416.6,183.6 413.9,184.7 410.5,183.2 408.6,183.1 404.8,182.9Z" fill="#fff7ec"/>
<path d="M404.5,177.6 406.2,177.7 405.8,178.6 404.4,179.0 403.8,178.3ZM406.8,177.6 406.6,176.8 407.5,175.8 408.8,175.5 410.6,175.2 413.7,175.5 414.9,175.5 414.1,176.9 414.4,178.3 414.5,180.2 411.8,179.4 410.4,178.9 408.7,179.4 408.8,178.2ZM405.6,177.2 404.7,177.4 404.2,176.9 405.7,176.6Z" fill="#fff7ec"/>
<path d="M413.9,172.9 412.4,173.2 408.9,173.9 405.4,174.7 403.8,173.3 402.0,172.3 402.1,170.7 401.3,168.5 401.5,166.9 403.7,165.2 406.0,163.2 407.4,162.5 407.0,161.3 405.6,160.8 404.9,160.6 403.8,159.5 404.2,158.4 403.0,157.0 403.1,155.8 400.0,154.6 397.4,153.3 398.5,152.8 400.6,154.0 402.0,154.3 404.9,154.4 406.1,153.5 406.1,152.0 406.9,151.4 409.1,151.1 410.1,151.6 411.8,152.5 411.4,153.4 410.9,154.6 413.9,156.4 412.9,158.2 415.3,160.9 415.0,162.7 416.9,164.3 416.2,165.4 419.4,167.4 415.7,171.1Z" fill="#fff7ec"/>
<path d="M397.1,180.7 397.5,179.5 398.6,179.3 398.4,180.4 397.4,181.5ZM403.3,160.8 401.5,161.2 400.2,163.2 398.9,165.3 396.3,166.4 395.2,168.1 394.2,168.7 393.9,170.2 394.4,172.7 396.7,173.5 397.8,174.7 397.4,175.9 395.9,177.1 394.3,177.6 394.3,179.7 394.2,182.3 393.4,183.6 392.7,183.6 391.2,183.8 390.4,185.0 388.2,185.5 387.6,184.9 387.2,183.8 386.9,182.7 386.0,181.2 385.3,179.8 383.9,178.2 383.5,176.4 384.5,175.2 385.9,173.7 385.2,171.8 386.3,171.0 384.9,170.2 385.1,168.9 384.4,166.4 385.4,164.8 387.6,164.8 387.8,163.8 386.9,163.4 388.2,161.8 388.0,160.0 389.6,159.6 391.0,157.5 390.4,156.9 392.2,155.5 393.3,155.8 393.5,154.5 396.5,154.9 397.0,153.9 397.4,153.3 400.0,154.6 403.1,155.8 403.0,157.0 404.2,158.4 403.8,159.5 404.9,160.6Z" fill="#fff7ec"/>
<path d="M382.6,174.5 382.3,175.9 381.5,176.6 379.3,178.0 377.9,178.8 376.1,179.0 373.1,176.8 372.3,174.5 372.3,173.3 371.9,171.6 372.0,170.4 372.1,169.0 374.0,168.3 375.8,167.4 376.7,166.9 378.6,166.0 380.1,165.5 380.6,164.8 382.7,162.8 384.2,161.3 384.7,159.5 385.7,159.1 387.5,157.3 389.0,155.7 387.4,155.3 390.7,154.4 391.4,153.5 394.5,152.0 397.4,151.2 399.3,150.6 401.9,149.9 405.1,148.8 408.2,148.9 410.5,149.4 414.2,150.4 412.2,151.1 411.0,151.2 412.9,151.9 414.2,151.7 413.0,152.0 411.4,153.4 411.8,152.5 410.1,151.6 409.1,151.1 406.9,151.4 406.1,152.0 406.1,153.5 404.9,154.4 402.0,154.3 400.6,154.0 398.5,152.8 397.4,153.3 397.0,153.9 396.5,154.9 393.5,154.5 393.3,155.8 392.2,155.5 390.4,156.9 391.0,157.5 389.6,159.6 388.0,160.0 388.2,161.8 386.9,163.4 387.8,163.8 387.6,164.8 385.4,164.8 384.4,166.4 385.1,168.9 384.9,170.2 386.3,171.0 385.2,171.8 385.9,173.7 384.5,175.2 383.5,176.4ZM382.3,131.3 385.8,131.1 388.7,131.1 391.4,130.4 398.5,130.2 401.6,130.9 395.6,132.4 391.2,132.4 393.6,133.3 395.3,133.9 398.6,135.0 395.2,136.2 390.6,135.8 389.3,136.8 387.9,137.5 383.8,135.8 382.2,134.6 378.2,133.1 379.5,131.6Z" fill="#fff7ec"/>
<path d="M637.5,218.6 637.0,218.7 636.4,219.9 637.3,221.9 636.8,222.9 634.6,225.1 635.1,226.8 637.7,228.2 635.2,229.0 635.3,230.4 632.9,229.9 632.4,230.5 630.4,229.5 630.9,227.9 630.0,226.1 628.6,225.6 627.6,224.9 629.6,222.2 630.3,219.9 632.5,219.4 634.3,219.2 634.8,216.9 637.1,218.3Z" fill="#fff7ec"/>
<path d="M637.7,228.2 638.8,229.2 640.0,230.4 642.0,232.3 643.2,235.0 643.8,236.3 643.6,237.3 641.5,238.0 641.1,238.3 638.9,239.4 638.1,238.1 637.4,236.0 637.2,235.0 635.3,232.9 636.4,232.3 635.4,231.2 635.3,230.4 635.2,229.0Z" fill="#fff7ec"/>
<path d="M614.4,276.9 614.7,277.7 613.9,279.9 612.9,280.9 611.9,281.5 609.9,280.7 609.5,278.6 610.5,277.0 611.6,276.7 612.6,276.5 613.8,276.5ZM625.0,225.6 622.1,227.8 621.7,225.8 621.9,222.9 619.1,222.3 617.4,224.8 615.7,227.0 614.6,227.1 615.5,229.0 618.9,230.4 619.4,231.8 621.3,231.3 622.3,230.3 624.1,230.9 627.1,231.3 627.1,232.7 624.4,233.4 623.6,234.8 622.6,236.5 622.4,238.1 625.5,239.7 628.0,242.8 631.0,245.7 632.0,247.7 632.1,248.3 630.5,249.1 630.5,249.8 632.3,250.6 633.0,250.9 633.8,252.7 633.7,255.1 632.5,256.1 631.6,257.9 631.2,259.8 630.9,261.1 630.2,263.2 629.6,264.1 628.4,265.1 627.0,267.1 625.9,268.0 623.4,269.6 621.7,270.0 620.7,270.7 619.2,270.0 619.3,271.1 617.8,272.0 615.6,272.4 613.1,273.6 613.2,275.7 612.1,276.0 611.1,273.1 609.6,273.0 607.7,272.6 607.0,272.7 605.6,272.4 603.9,271.5 603.5,269.3 600.1,268.1 597.5,270.2 595.3,270.2 593.4,270.5 592.7,271.0 593.1,273.7 591.5,272.6 589.4,273.0 586.9,271.1 587.3,269.0 585.8,268.4 582.4,266.4 582.1,264.3 584.1,261.3 583.1,257.0 581.8,256.9 579.7,255.3 576.5,252.5 573.9,252.8 570.9,254.3 569.3,256.2 567.3,256.5 564.6,255.7 562.5,255.5 561.4,257.6 560.8,255.8 559.4,256.2 557.3,256.2 555.7,255.8 553.7,255.1 550.1,253.6 548.3,252.7 544.6,249.8 542.3,250.1 537.8,248.0 536.4,246.7 536.4,244.1 535.0,239.4 531.8,236.3 527.6,235.0 526.6,233.1 524.3,231.6 523.2,228.6 521.0,228.4 520.0,226.0 520.4,225.3 521.6,223.4 524.8,223.5 525.6,221.9 528.6,220.9 531.6,218.8 531.9,216.4 528.3,211.9 532.6,210.2 532.2,206.0 537.5,206.4 536.4,202.9 538.2,201.9 538.8,201.0 539.7,201.0 540.8,202.4 545.7,204.2 549.3,207.5 550.6,210.9 556.3,211.8 561.0,213.4 564.9,217.4 572.6,217.7 576.6,218.1 584.1,220.3 588.6,218.2 592.8,218.2 596.1,215.0 594.1,213.2 594.4,211.4 598.3,212.1 599.1,210.6 602.2,209.8 602.2,208.3 603.3,207.5 608.2,207.1 607.5,206.2 603.5,204.1 602.0,204.0 601.5,204.7 598.6,204.7 597.1,203.6 596.9,199.3 599.6,200.1 601.4,198.9 600.5,194.6 600.2,192.3 598.3,191.8 600.3,190.6 603.9,190.0 608.8,191.2 610.5,192.3 617.8,198.2 623.3,200.4 626.4,201.7 629.3,204.7 632.4,204.7 635.8,203.1 636.6,205.5 638.2,211.6 635.1,210.9 636.1,214.2 636.9,215.7 637.1,218.3 634.8,216.9 634.3,219.2 632.5,219.4 630.3,219.9 629.6,222.2 627.6,224.9Z" fill="#fdbb84"/>
<path d="M607.0,272.7 605.8,273.4 605.3,274.3 604.7,274.8 604.4,276.2 603.1,277.4 603.2,280.1 605.2,282.2 605.7,283.4 606.9,284.6 608.4,285.8 609.8,286.9 611.6,289.0 612.9,293.1 613.5,295.3 613.2,297.0 612.9,298.8 611.0,300.5 608.9,302.0 608.2,302.9 607.2,304.2 605.2,305.6 603.8,306.5 603.8,303.1 604.2,302.9 602.8,301.8 604.1,300.4 606.7,300.8 605.7,298.6 606.9,297.8 609.4,296.7 608.9,295.0 608.7,290.6 608.4,288.8 607.4,286.4 605.7,284.7 603.1,282.1 601.9,280.4 598.9,278.3 599.2,277.5 600.6,276.9 599.4,275.6 596.3,274.7 593.9,272.4 593.4,270.5 595.3,270.2 597.5,270.2 600.1,268.1 603.5,269.3 603.9,271.5 605.6,272.4Z" fill="#fee8c8"/>
<path d="M602.8,301.8 602.4,301.6 600.5,301.3 599.2,299.5 598.9,298.6 598.0,296.1 597.5,293.5 598.4,291.8 600.7,291.5 603.5,291.5 605.3,291.5 606.4,291.0 608.7,290.6 608.9,295.0 609.4,296.7 606.9,297.8 605.7,298.6 606.7,300.8 604.1,300.4Z" fill="#fff7ec"/>
<path d="M598.9,298.6 597.9,297.1 596.4,296.0 595.0,296.0 594.1,296.0 593.9,295.2 594.0,294.1 593.1,293.7 591.8,294.0 591.9,296.2 591.8,298.2 590.8,301.6 590.9,304.7 592.5,304.7 593.1,306.9 593.7,308.1 594.5,310.2 596.1,311.0 597.5,312.3 598.0,312.7 597.4,313.8 595.8,314.1 595.2,312.7 593.5,312.1 593.3,311.9 591.9,309.9 590.4,308.0 589.1,308.1 589.0,307.3 588.8,306.3 589.4,303.0 589.3,302.9 589.7,302.0 591.3,298.2 590.2,296.1 589.6,292.7 587.2,289.3 587.8,286.9 584.3,280.7 585.0,280.5 585.1,277.3 587.4,277.3 589.6,275.8 590.8,276.4 590.9,278.1 592.7,278.1 592.7,283.0 595.1,281.5 597.9,280.9 601.4,283.5 601.9,286.4 603.9,288.0 604.1,291.0 603.5,291.5 600.7,291.5 598.4,291.8 597.5,293.5 598.0,296.1Z" fill="#fee8c8"/>
<path d="M598.4,312.8 600.6,315.0 601.4,318.0 601.3,319.1 601.6,321.4 602.5,322.6 603.5,325.5 602.5,325.6 601.7,325.7 600.3,324.3 598.8,323.3 597.7,322.5 596.7,321.2 595.3,318.8 594.8,318.0 594.1,314.9 594.0,313.3 593.5,312.1 595.2,312.7 595.8,314.1 597.4,313.8 598.0,312.7ZM617.4,324.6 619.0,325.3 619.4,322.7 621.0,321.4 623.5,320.6 625.6,317.5 625.9,317.0 627.4,318.4 628.2,317.5 628.2,316.2 628.6,315.7 629.2,314.6 630.2,313.5 631.7,310.7 633.0,311.8 634.0,313.3 635.0,313.7 637.7,315.4 636.3,317.4 634.7,317.9 634.0,318.1 631.2,317.6 629.4,318.0 629.5,320.1 628.6,321.4 628.0,323.0 627.3,325.1 625.7,325.3 623.7,325.3 621.8,325.2 620.9,326.4 618.1,326.6 617.2,326.4 616.0,325.1 615.9,323.6Z" fill="#fc8d59"/>
<path d="M589.3,302.9 589.0,301.0 588.8,296.6 587.3,292.4 586.4,289.2 585.4,285.9 584.4,284.8 583.6,283.8 582.5,285.9 580.6,287.7 578.8,287.6 577.8,287.2 577.8,283.3 577.3,280.8 575.5,278.3 573.4,276.4 571.8,274.8 572.1,271.6 573.4,268.6 572.9,266.2 574.9,266.6 575.3,262.4 575.8,259.4 577.7,257.7 579.7,255.3 581.8,256.9 583.1,257.0 584.1,261.3 582.1,264.3 582.4,266.4 585.8,268.4 587.3,269.0 586.9,271.1 589.4,273.0 591.5,272.6 590.6,274.7 589.6,275.8 587.4,277.3 585.1,277.3 585.0,280.5 584.3,280.7 587.8,286.9 587.2,289.3 589.6,292.7 590.2,296.1 591.3,298.2 589.7,302.0Z" fill="#fff7ec"/>
<path d="M571.8,274.8 571.8,274.5 570.8,273.0 570.1,270.7 568.8,269.7 567.8,270.5 566.9,271.9 565.1,272.2 564.2,272.4 563.5,269.2 562.6,268.4 562.5,265.5 560.6,264.6 562.4,263.2 560.4,261.6 560.6,259.5 564.2,261.1 564.4,262.9 565.8,263.3 570.5,263.7 570.1,263.9 568.1,266.0 568.1,267.2 569.4,269.0 571.0,268.9 572.1,271.6Z" fill="#fdbb84"/>
<path d="M575.8,294.3 576.2,298.4 575.3,298.7 574.9,296.3 575.1,293.7ZM562.3,272.6 561.7,271.8 560.7,272.6 559.6,272.8 559.6,274.8 559.3,276.0 557.5,277.3 556.0,278.4 555.6,278.7 552.5,282.8 550.3,284.7 550.5,285.6 549.2,286.4 548.0,286.8 547.3,287.6 545.7,289.0 546.2,291.4 546.8,294.8 546.0,297.9 546.2,300.9 546.3,302.1 545.0,302.1 544.4,303.7 545.2,304.8 542.6,306.0 541.3,307.9 539.9,306.8 539.0,305.7 538.1,303.0 536.7,299.6 534.3,295.3 532.2,290.3 531.4,288.5 529.9,284.6 528.2,279.5 527.7,277.3 527.9,275.7 527.4,273.7 527.0,272.3 526.3,270.7 525.9,272.2 524.7,274.4 523.5,274.9 522.1,274.4 520.2,272.4 518.6,270.9 518.7,270.3 520.8,270.1 521.6,268.9 521.2,268.9 519.3,269.3 517.5,268.1 516.4,267.1 517.5,265.5 522.1,265.4 522.1,263.7 520.2,262.0 519.7,259.6 518.2,257.9 519.7,255.8 520.6,256.6 523.2,256.0 523.9,253.9 524.9,253.2 526.5,250.8 527.5,247.7 527.1,245.5 528.5,244.6 526.7,243.3 525.0,242.3 524.1,239.4 526.3,238.5 530.4,237.6 531.8,236.3 535.0,239.4 536.4,244.1 536.4,246.7 537.8,248.0 542.3,250.1 541.1,251.1 540.9,253.6 543.7,254.9 548.9,257.5 551.9,257.7 554.8,259.5 558.3,260.0 560.0,259.9 559.4,256.2 560.8,255.8 561.4,257.6 561.9,259.0 563.7,259.2 566.3,259.0 568.8,258.9 567.3,256.5 569.3,256.2 570.9,254.3 573.9,252.8 576.5,252.5 579.7,255.3 577.7,257.7 575.8,259.4 575.3,262.4 574.9,266.6 572.9,266.2 573.4,268.6 572.1,271.6 571.0,268.9 569.4,269.0 568.1,267.2 568.1,266.0 570.1,263.9 570.5,263.7 565.8,263.3 564.4,262.9 564.2,261.1 560.6,259.5 560.4,261.6 562.4,263.2 560.6,264.6 562.5,265.5 562.6,268.4 563.5,269.2 564.2,272.4Z" fill="#990000"/>
<path d="M516.4,267.1 515.0,266.6 514.6,266.4 513.3,264.2 512.3,262.6 509.9,262.8 507.9,263.2 505.3,263.0 502.8,263.4 501.5,263.6 501.2,263.2 501.4,260.4 504.4,259.1 503.0,257.8 502.8,255.2 500.4,254.3 497.8,251.0 501.6,252.2 505.2,252.1 509.9,251.0 509.6,248.1 510.5,247.2 512.4,247.0 513.1,245.9 515.4,245.5 515.3,242.7 516.8,241.9 515.6,240.2 518.2,240.0 517.7,239.0 518.5,236.5 517.1,234.8 519.4,232.9 521.7,232.6 524.3,231.6 526.6,233.1 527.6,235.0 531.8,236.3 530.4,237.6 526.3,238.5 524.1,239.4 525.0,242.3 526.7,243.3 528.5,244.6 527.1,245.5 527.5,247.7 526.5,250.8 524.9,253.2 523.9,253.9 523.2,256.0 520.6,256.6 519.7,255.8 518.2,257.9 519.7,259.6 520.2,262.0 522.1,263.7 522.1,265.4 517.5,265.5Z" fill="#d7301f"/>
<path d="M501.2,263.2 498.9,262.9 495.3,262.6 492.4,262.0 490.4,259.2 490.2,258.5 488.5,258.1 485.7,259.6 482.5,259.2 480.3,257.4 478.9,256.2 475.9,253.4 474.0,250.5 472.8,250.4 471.4,249.8 470.5,250.8 469.1,249.3 468.2,248.0 468.3,245.9 467.0,244.2 464.1,242.3 462.1,240.2 463.3,235.5 461.3,235.0 459.5,232.0 458.5,230.3 457.9,228.7 457.6,226.1 458.3,225.3 460.0,227.1 461.6,227.5 462.5,227.5 464.7,225.4 466.0,226.1 465.6,227.5 467.1,228.7 467.6,228.6 469.3,231.1 472.2,232.6 473.1,233.1 476.6,233.1 479.4,232.6 479.0,231.4 480.7,231.2 481.8,229.5 483.8,229.6 485.6,229.1 490.5,231.0 493.3,233.3 494.9,233.4 495.9,236.0 496.0,238.3 495.0,239.9 495.7,242.5 497.0,246.7 499.2,247.1 499.4,248.5 497.8,251.0 500.4,254.3 502.8,255.2 503.0,257.8 504.4,259.1 501.4,260.4Z" fill="#fdbb84"/>
<path d="M470.5,250.8 470.4,250.8 469.1,250.5 468.5,250.4 468.0,250.6 466.3,253.0 466.0,253.1 462.2,252.7 455.8,247.7 451.8,245.5 449.1,245.0 447.9,241.8 452.2,239.1 452.6,238.1 452.2,233.9 453.2,233.4 454.2,232.1 455.5,231.4 458.1,231.6 459.5,232.0 461.3,235.0 463.3,235.5 462.1,240.2 464.1,242.3 467.0,244.2 468.3,245.9 468.2,248.0 469.1,249.3Z" fill="#d7301f"/>
<path d="M469.1,250.5 469.3,250.8 469.3,252.3 469.7,252.5 470.6,254.4 469.0,254.4 468.3,253.2 466.3,253.0 468.0,250.6 468.5,250.4Z" fill="#fee8c8"/>
<path d="M470.6,254.4 470.9,254.8 473.8,258.5 475.0,259.9 475.4,262.1 477.0,264.3 477.8,265.0 478.4,264.7 478.7,265.5 478.9,265.6 479.0,266.0 481.5,269.0 487.3,269.8 487.4,269.7 488.6,271.5 487.6,276.7 481.0,279.4 474.2,280.4 472.5,281.5 468.6,283.9 466.3,283.7 463.1,283.5 461.5,283.3 461.1,285.4 460.5,286.2 459.9,284.8 457.2,280.7 456.2,279.1 454.2,276.4 451.4,272.8 450.9,269.4 448.5,266.0 446.5,263.6 444.5,260.4 442.6,257.5 440.9,255.6 440.0,255.8 440.5,252.5 440.5,252.3 443.0,252.7 444.4,251.0 446.0,250.6 447.0,249.3 444.5,246.7 449.1,245.0 451.8,245.5 455.8,247.7 462.2,252.7 466.0,253.1 466.3,253.0 468.3,253.2 469.0,254.4Z" fill="#fc8d59"/>
<path d="M477.0,264.3 476.8,262.4 477.6,260.7 478.7,262.9 478.8,264.6 478.4,264.7 477.8,265.0Z" fill="#fdd49e"/>
<path d="M478.9,265.6 481.2,265.8 483.5,266.0 485.2,265.1 487.0,263.0 488.3,261.6 488.6,260.9 488.9,261.7 489.1,262.1 489.4,263.4 489.6,263.8 488.7,264.2 488.4,266.3 487.4,269.7 487.3,269.8 481.5,269.0 479.0,266.0Z" fill="#fdbb84"/>
<path d="M490.5,265.4 493.3,267.1 494.9,267.3 496.7,269.8 497.3,270.1 497.8,270.2 497.2,273.1 495.8,275.2 494.0,277.3 494.1,279.4 491.9,280.1 491.0,282.1 488.8,283.0 486.1,284.6 483.9,285.5 481.0,279.4 487.6,276.7 488.6,271.5 487.4,269.7 488.4,266.3 488.7,264.2 489.6,263.8ZM489.1,260.2 489.4,261.7 489.1,262.1 488.9,261.7 488.6,260.9Z" fill="#fff7ec"/>
<path d="M483.9,285.5 482.1,286.7 482.1,288.2 480.0,289.3 477.2,290.2 475.3,291.0 472.7,292.4 469.8,294.0 467.5,294.1 466.0,295.6 463.7,296.1 462.5,296.0 461.9,294.3 461.1,290.3 460.6,288.0 460.5,286.2 461.1,285.4 461.5,283.3 463.1,283.5 466.3,283.7 468.6,283.9 472.5,281.5 474.2,280.4 481.0,279.4Z" fill="#990000"/>
<path d="M440.5,252.3 440.6,251.9 441.1,248.3 441.3,246.7 441.0,244.4 441.4,243.4 441.7,243.6 443.8,244.6 447.9,241.8 449.1,245.0 444.5,246.7 447.0,249.3 446.0,250.6 444.4,251.0 443.0,252.7Z" fill="#fdbb84"/>
<path d="M450.6,220.6 450.6,220.3 450.5,219.0 448.7,216.8 446.4,215.8 448.0,215.5 451.7,216.3 455.0,217.8 457.0,217.4 458.8,218.1 460.7,219.6 460.3,220.4 461.4,221.7 458.0,221.2 454.8,221.6 453.2,220.4Z" fill="#fee8c8"/>
<path d="M440.9,206.2 439.6,206.4 438.2,207.1 435.4,207.8 434.4,208.7 435.7,210.6 438.0,210.5 438.3,210.9 436.1,211.6 434.3,212.9 433.0,213.2 432.4,212.7 432.2,211.1 430.0,210.7 432.1,208.8 429.2,208.5 427.4,207.5 425.9,207.8 425.0,209.4 424.3,211.1 421.1,210.5 422.4,209.1 424.6,208.0 422.1,204.2 419.2,202.8 416.8,203.3 413.5,204.6 409.4,204.1 407.7,202.9 408.3,201.2 408.5,199.9 410.2,197.9 410.9,196.7 409.7,195.1 412.3,194.1 416.7,194.9 420.7,194.9 423.6,195.6 425.6,193.6 429.4,193.0 431.2,195.7 434.0,197.9 437.8,198.1 439.1,199.1 443.4,199.9 443.5,204.0 443.8,204.3Z" fill="#fee8c8"/>
<path d="M424.3,211.1 422.4,213.7 422.5,214.8 419.0,213.8 416.3,215.1 414.0,214.8 410.6,214.6 410.0,213.6 409.4,212.4 407.2,212.1 407.3,211.1 404.5,208.7 406.4,208.0 407.7,205.2 409.4,204.1 413.5,204.6 416.8,203.3 419.2,205.7 420.5,207.5 421.1,210.5Z" fill="#ef6548"/>
<path d="M422.5,214.8 421.2,216.3 420.6,218.1 421.8,219.4 420.3,219.1 418.5,220.1 416.4,221.3 414.6,220.5 411.4,221.1 411.4,220.0 409.9,218.5 410.0,217.0 411.0,216.3 409.6,215.0 410.0,213.6 410.6,214.6 414.0,214.8 416.3,215.1 419.0,213.8Z" fill="#fff7ec"/>
<path d="M473.4,220.0 471.9,217.3 469.5,215.1 468.7,213.7 467.2,212.7 468.8,210.9 472.7,210.9 471.4,207.3 468.9,206.5 467.2,206.8 463.4,208.0 462.3,207.0 460.7,204.6 458.3,203.2 457.0,202.8 457.5,200.9 457.1,200.5 457.7,197.7 460.3,199.1 460.2,197.4 463.4,194.6 466.9,195.1 469.1,195.9 471.3,196.4 474.0,197.5 477.2,196.1 479.4,196.2 481.6,197.5 485.4,196.9 483.8,195.1 481.3,193.8 482.5,191.6 483.5,188.7 489.2,188.0 494.3,186.4 499.0,185.6 501.0,188.4 505.7,188.9 508.2,190.1 511.3,188.4 515.1,190.6 522.4,196.9 528.7,196.4 534.2,199.9 538.8,201.0 538.2,201.9 536.4,202.9 537.5,206.4 532.2,206.0 532.6,210.2 528.3,211.9 531.9,216.4 531.6,218.8 528.8,217.3 523.9,216.8 521.6,216.9 518.2,216.1 516.7,216.8 517.2,218.2 513.3,217.3 512.0,218.7 508.8,221.0 506.7,221.8 503.9,221.6 501.5,218.3 501.3,216.9 498.3,215.0 492.3,215.5 489.8,213.4 483.7,210.2 478.7,211.6 481.1,221.1 480.1,221.3 478.6,219.6 476.5,218.5 474.4,219.1Z" fill="#d7301f"/>
<path d="M479.0,231.4 477.5,227.4 476.2,226.1 475.6,224.5 474.8,221.7 475.5,222.2 477.9,222.5 478.1,220.4 475.7,219.4 474.5,220.7 473.4,220.0 474.4,219.1 476.5,218.5 478.6,219.6 480.1,221.3 481.1,221.1 483.3,221.3 482.9,219.7 485.7,217.4 489.0,218.8 489.8,220.9 493.8,221.7 495.6,224.5 500.4,227.3 506.2,231.4 504.3,230.9 502.6,232.1 502.5,234.2 499.7,235.3 498.4,237.2 495.9,236.0 494.9,233.4 493.3,233.3 490.5,231.0 485.6,229.1 483.8,229.6 481.8,229.5 480.7,231.2Z" fill="#fff7ec"/>
<path d="M459.2,225.6 460.6,226.1 461.1,226.5 461.6,227.5 460.0,227.1 458.3,225.3ZM466.6,221.2 468.2,223.0 469.9,223.8 468.8,223.6 467.8,224.5 468.3,226.2 467.4,227.8 467.6,228.6 467.1,228.7 465.6,227.5 466.0,226.1 464.7,225.4 462.5,227.5 462.0,225.8 459.9,224.7 460.5,224.0 459.5,222.5 458.0,221.2 461.4,221.7 460.3,220.4 460.7,219.6 461.4,219.9 462.8,221.2 464.1,221.4 465.2,219.7Z" fill="#d7301f"/>
<path d="M377.4,209.3 376.8,208.0 375.6,208.5 375.4,208.0 377.0,205.7 378.4,205.0 380.4,204.7 382.3,205.2 382.4,206.4 384.3,206.9 383.6,208.4 382.0,207.9 381.4,209.4 380.2,207.9 379.0,209.3Z" fill="#fee8c8"/>
<path d="M375.7,200.2 374.6,200.0 374.4,198.9 375.1,198.5 375.9,199.4Z" fill="#fff7ec"/>
<path d="M390.9,202.0 388.7,200.5 388.0,199.1 387.1,198.1 388.9,197.7 391.3,196.2 392.4,196.7 393.3,196.4 395.4,197.2 396.7,197.9 398.3,198.1 400.8,200.1 399.4,201.3 397.6,201.8 397.2,202.4 395.2,202.0 393.1,201.4 392.6,202.4Z" fill="#fff7ec"/>
<path d="M382.3,205.2 383.7,205.7 385.3,205.5 387.7,205.0 389.4,205.0 388.8,203.7 389.2,203.2 390.9,202.0 392.6,202.4 393.1,201.4 395.2,202.0 397.2,202.4 397.7,204.0 397.7,204.7 396.5,205.5 395.8,206.8 394.9,207.3 392.7,208.0 391.0,207.7 388.3,207.3 387.8,206.4 385.8,206.6 384.3,206.9 382.4,206.4Z" fill="#fdd49e"/>
<path d="M395.8,206.8 396.5,205.5 397.7,204.7 397.7,204.0 400.9,204.5 401.5,203.8 403.4,203.4 406.2,202.6 407.7,202.9 409.4,204.1 407.7,205.2 406.4,208.0 404.5,208.7 401.8,209.3 398.5,209.2 396.9,207.8Z" fill="#fff7ec"/>
<path d="M397.7,204.0 397.2,202.4 397.6,201.8 399.4,201.3 400.8,200.1 402.8,200.9 403.4,200.7 405.1,200.4 408.3,201.2 407.7,202.9 406.2,202.6 403.4,203.4 401.5,203.8 400.9,204.5Z" fill="#fff7ec"/>
<path d="M409.7,195.1 409.4,193.6 408.6,193.1 409.8,192.1 408.6,189.0 410.3,189.1 412.3,188.1 412.7,186.6 414.0,185.6 413.9,184.7 416.6,183.6 420.7,184.3 422.1,184.9 422.4,186.9 424.6,188.6 426.7,190.2 424.3,190.9 425.6,193.6 423.6,195.6 420.7,194.9 416.7,194.9 412.3,194.1Z" fill="#fdd49e"/>
<path d="M416.8,203.3 419.2,202.8 422.1,204.2 424.6,208.0 422.4,209.1 421.1,210.5 420.5,207.5 419.2,205.7Z" fill="#fee8c8"/>
<path d="M401.8,209.3 404.5,208.7 407.3,211.1 407.2,212.1 409.4,212.4 410.0,213.6 409.6,215.0 411.0,216.3 410.0,217.0 409.9,218.5 408.3,218.7 406.3,219.7 405.0,217.9 405.5,217.2 403.0,215.5 403.6,215.2 403.1,213.4 402.2,212.0 402.3,210.9Z" fill="#fee8c8"/>
<path d="M401.6,217.9 399.9,217.0 399.0,215.7 396.6,213.7 395.5,212.1 395.5,211.1 397.8,211.0 400.1,211.4 402.2,212.0 403.1,213.4 403.6,215.2 403.0,215.5 402.0,216.1Z" fill="#fff7ec"/>
<path d="M407.3,222.3 406.2,221.2 406.3,219.7 408.3,218.7 409.9,218.5 411.4,220.0 411.4,221.1 409.1,222.2Z" fill="#fff7ec"/>
<path d="M454.8,221.6 458.0,221.2 459.5,222.5 460.5,224.0 459.9,224.7 462.0,225.8 462.5,227.5 461.6,227.5 461.1,226.5 460.6,226.1 459.2,225.6 458.3,225.3 455.6,224.3 455.5,222.7Z" fill="#fdbb84"/>
<path d="M539.7,201.0 540.2,200.1 542.4,199.0 545.4,197.4 547.9,196.9 552.4,198.9 558.1,199.5 559.1,197.6 557.3,195.2 558.0,193.6 565.7,195.6 566.9,197.4 573.3,197.7 575.9,198.0 581.4,200.5 585.9,201.0 589.8,199.9 591.3,198.1 596.9,199.3 597.1,203.6 598.6,204.7 601.5,204.7 602.0,204.0 603.5,204.1 607.5,206.2 608.2,207.1 603.3,207.5 602.2,208.3 602.2,209.8 599.1,210.6 598.3,212.1 594.4,211.4 594.1,213.2 596.1,215.0 592.8,218.2 588.6,218.2 584.1,220.3 576.6,218.1 572.6,217.7 564.9,217.4 561.0,213.4 556.3,211.8 550.6,210.9 549.3,207.5 545.7,204.2 540.8,202.4Z" fill="#fff7ec"/>
<path d="M512.0,218.7 513.3,217.3 517.2,218.2 516.7,216.8 518.2,216.1 521.6,216.9 523.9,216.8 528.8,217.3 531.6,218.8 528.6,220.9 525.6,221.9 524.8,223.5 521.6,223.4 520.4,225.3 520.0,226.0 515.8,226.0 513.7,226.1 510.6,225.7 510.3,224.5 512.8,224.5 512.9,223.9 515.3,224.2 516.4,223.5 517.5,222.5 514.9,221.4 513.9,221.7 511.0,220.7 511.4,219.9Z" fill="#ef6548"/>
<path d="M481.1,221.1 478.7,211.6 483.7,210.2 489.8,213.4 492.3,215.5 498.3,215.0 501.3,216.9 501.5,218.3 503.9,221.6 506.7,221.8 508.8,221.0 512.0,218.7 511.4,219.9 511.0,220.7 513.9,221.7 514.9,221.4 517.5,222.5 516.4,223.5 515.3,224.2 512.9,223.9 512.8,223.0 512.1,221.9 509.7,222.5 509.6,224.3 508.9,225.7 506.6,225.8 508.9,227.4 508.8,229.2 509.0,231.9 506.2,231.4 500.4,227.3 495.6,224.5 493.8,221.7 489.8,220.9 489.0,218.8 485.7,217.4 482.9,219.7 483.3,221.3Z" fill="#fc8d59"/>
<path d="M495.9,236.0 498.4,237.2 499.7,235.3 502.5,234.2 502.6,232.1 504.3,230.9 506.2,231.4 509.0,231.9 509.6,232.3 512.5,230.9 513.7,230.0 514.3,228.8 515.7,229.0 516.7,230.0 516.8,232.1 517.6,233.3 519.7,232.3 521.8,231.3 524.3,231.6 521.7,232.6 519.4,232.9 517.1,234.8 518.5,236.5 517.7,239.0 518.2,240.0 515.6,240.2 516.8,241.9 515.3,242.7 515.4,245.5 513.1,245.9 512.4,247.0 510.5,247.2 509.6,248.1 509.9,251.0 505.2,252.1 501.6,252.2 497.8,251.0 499.4,248.5 499.2,247.1 497.0,246.7 495.7,242.5 495.0,239.9 496.0,238.3Z" fill="#fc8d59"/>
<path d="M524.3,231.6 521.8,231.3 519.7,232.3 517.6,233.3 516.8,232.1 516.7,230.0 515.7,229.0 514.3,228.8 513.7,230.0 512.5,230.9 509.6,232.3 509.0,231.9 508.8,229.2 508.9,227.4 506.6,225.8 508.9,225.7 509.6,224.3 509.7,222.5 512.1,221.9 512.8,223.0 512.9,223.9 512.8,224.5 510.3,224.5 510.6,225.7 513.7,226.1 515.8,226.0 520.0,226.0 521.0,228.4 523.2,228.6Z" fill="#fdd49e"/>
<path d="M559.4,256.2 560.0,259.9 558.3,260.0 554.8,259.5 551.9,257.7 548.9,257.5 543.7,254.9 540.9,253.6 541.1,251.1 542.3,250.1 544.6,249.8 548.3,252.7 550.1,253.6 553.7,255.1 555.7,255.8 557.3,256.2Z" fill="#fdbb84"/>
<path d="M561.4,257.6 562.5,255.5 564.6,255.7 567.3,256.5 568.8,258.9 566.3,259.0 563.7,259.2 561.9,259.0Z" fill="url(#hatch)" stroke="#c6c6c6" stroke-opacity="1"/>
<path d="M589.6,275.8 590.6,274.7 591.5,272.6 593.1,273.7 592.7,271.0 593.4,270.5 593.9,272.4 596.3,274.7 599.4,275.6 600.6,276.9 599.2,277.5 598.9,278.3 601.9,280.4 603.1,282.1 605.7,284.7 607.4,286.4 608.4,288.8 608.7,290.6 606.4,291.0 605.3,291.5 603.5,291.5 604.1,291.0 603.9,288.0 601.9,286.4 601.4,283.5 597.9,280.9 595.1,281.5 592.7,283.0 592.7,278.1 590.9,278.1 590.8,276.4Z" fill="#fff7ec"/>
<path d="M351.1,190.5 351.1,191.5 350.3,193.4 348.9,193.5 346.5,194.4 343.5,195.2 342.7,194.4 342.3,193.6 343.8,192.3 344.5,191.4 345.3,190.9 343.2,190.1 343.4,188.2 346.2,188.1 346.1,187.1 346.9,185.9 348.8,185.5 349.3,185.6 348.9,186.3 348.3,187.0 347.1,187.7 348.7,188.5 350.1,188.7 351.0,188.9 350.8,189.9Z" fill="#fff7ec"/>
<path d="M352.7,197.8 353.9,196.4 354.6,195.9 356.9,195.9 357.6,194.9 356.6,195.2 354.6,195.0 352.8,194.7 352.4,194.1 353.6,193.6 354.8,192.8 353.6,191.8 354.5,191.1 353.9,190.4 356.1,190.5 357.0,190.4 357.0,189.4 357.4,188.6 356.7,188.6 355.9,187.6 357.1,186.5 356.0,186.6 353.5,187.3 353.1,186.6 354.1,185.3 353.5,184.2 351.8,185.6 352.4,182.9 351.1,182.2 352.3,180.7 352.0,180.0 353.0,178.6 353.6,177.5 357.2,177.5 357.1,178.0 355.4,179.3 355.0,180.3 356.3,179.8 359.1,179.8 359.5,180.3 358.9,181.1 357.6,182.8 357.9,183.2 356.8,183.9 358.1,183.9 359.1,184.4 359.8,184.9 360.2,186.4 360.6,187.2 361.7,187.6 362.7,188.6 363.2,189.9 363.6,191.0 363.3,191.8 363.9,191.4 365.4,191.5 366.3,192.6 366.1,193.6 364.8,194.4 364.3,195.2 365.8,195.4 365.7,196.0 364.8,196.6 363.4,197.0 360.3,197.4 358.0,197.5 356.9,197.1 355.6,198.3 354.7,198.0 352.8,199.0 351.5,198.8ZM351.1,185.8 351.9,187.2 352.2,188.0 351.0,188.9 350.1,188.7 348.7,188.5 347.1,187.7 348.3,187.0 348.9,186.3 349.3,185.6Z" fill="#fdbb84"/>
<path d="M322.6,165.3 324.2,164.5 323.8,163.6 320.7,162.8 324.4,162.3 320.1,161.3 322.7,159.9 324.1,159.2 325.8,161.1 326.3,161.3 327.7,160.0 330.9,159.9 331.4,160.9 333.5,159.8 335.0,159.0 337.8,159.3 337.2,160.8 339.2,162.3 337.3,163.9 336.0,164.2 333.6,165.3 330.8,166.1 329.0,166.2 326.8,165.9 325.3,165.2Z" fill="#fff7ec"/>
<path d="M651.9,242.3 652.4,243.6 652.3,245.7 652.2,247.4 651.4,248.0 650.7,246.6 650.2,247.4 649.4,245.4 648.9,244.1 647.8,243.6 647.2,242.5 647.1,241.5 648.2,241.2 649.0,240.4 651.0,241.1ZM656.9,242.1 655.2,241.5 654.8,243.4 653.4,242.8 652.0,241.9 652.9,240.4 653.3,239.9 654.7,240.2 655.3,239.3 656.7,239.7 657.5,240.7ZM663.1,223.1 665.5,225.4 666.4,229.0 665.4,229.2 667.1,232.3 667.1,234.2 668.4,235.7 668.1,237.0 667.3,237.8 666.6,236.8 666.5,237.2 665.4,236.9 665.5,238.6 664.2,237.6 664.1,238.6 661.4,238.6 660.7,237.6 661.6,239.5 660.7,240.4 660.1,241.6 658.1,240.4 657.7,239.4 657.9,238.5 656.2,238.2 654.8,238.9 651.8,239.3 650.8,240.3 649.0,240.3 648.4,239.3 649.4,239.0 650.4,237.8 651.1,236.4 651.7,236.0 654.2,236.1 656.2,235.6 657.5,236.3 658.1,235.7 657.3,234.4 658.1,233.4 657.6,232.0 658.4,231.0 658.5,232.1 658.7,232.9 659.5,232.7 660.9,231.8 661.2,230.3 661.6,229.9 661.7,228.3 661.7,227.1 661.1,225.2 660.1,224.7 660.1,223.5 659.3,222.6 659.5,221.3 660.8,222.2 660.9,221.4 660.2,220.7 661.6,220.9ZM656.4,217.6 656.0,215.9 658.3,216.3 657.1,213.4 655.2,210.6 655.6,210.3 659.5,212.8 663.2,214.2 664.7,213.3 667.4,215.8 665.1,216.8 664.7,217.8 664.5,219.5 660.1,217.8 659.1,218.5 657.8,218.6 660.4,219.9 659.8,220.0 658.9,220.9 656.8,218.8Z" fill="url(#hatch)" stroke="#c6c6c6" stroke-opacity="1"/>
<path d="M635.6,262.9 636.8,263.7 636.8,265.0 636.6,266.6 636.2,269.4 635.9,271.8 634.3,270.0 633.6,268.6 633.3,266.8 633.9,265.5 634.6,264.1 635.0,263.4Z" fill="url(#hatch)" stroke="#c6c6c6" stroke-opacity="1"/>
<path d="M547.2,303.3 548.9,305.7 549.6,306.7 550.9,308.9 551.3,310.7 550.9,312.3 549.7,313.1 548.4,313.5 547.6,313.2 546.7,311.0 546.5,309.1 546.3,307.6 546.6,305.5 546.5,303.7Z" fill="#fdbb84"/>
<path d="M433.2,237.4 434.4,237.0 434.4,236.5 436.1,236.6 437.9,235.7 436.7,237.3 437.0,237.6 436.2,238.0 434.8,238.7 433.5,238.2Z" fill="#fff7ec"/>
<path d="M307.6,290.1 307.1,290.6 306.6,290.1 307.2,289.6ZM309.7,289.6 309.0,290.3 308.3,289.6 309.0,288.8ZM310.9,286.9 310.4,287.5 309.9,286.9 310.4,286.4ZM307.5,286.1 307.1,285.6 307.5,285.2 307.9,285.6ZM305.7,285.2 305.1,284.6 305.7,284.0 306.3,284.6Z" fill="#fff7ec"/>
<path d="M466.4,361.9 466.8,362.4 466.3,363.0 465.8,362.4ZM465.2,360.9 464.7,361.4 464.2,360.9 464.7,360.4ZM462.9,359.6 462.2,360.3 461.5,359.6 462.2,358.9Z" fill="#fff7ec"/>
<path d="M492.6,381.9 493.4,381.2 494.0,381.9 493.2,382.6Z" fill="#fff7ec"/>
<path d="M487.8,384.1 488.5,383.4 489.1,384.1 488.4,384.8Z" fill="url(#hatch)" stroke="#c6c6c6" stroke-opacity="1"/>
<path d="M490.2,341.1 490.7,340.6 491.2,341.1 490.7,341.7Z" fill="#fff7ec"/>
<path d="M377.7,328.3 378.1,327.9 378.6,328.3 378.1,328.8Z" fill="#fff7ec"/>
<path d="M625.9,317.0 628.2,316.2 628.2,317.5 627.4,318.4Z" fill="#fff7ec"/>
<path d="M636.3,354.5 636.4,353.6 638.7,353.4 640.4,355.1 639.0,355.8ZM637.0,351.7 635.1,352.1 633.2,352.6 631.4,352.5 631.4,350.9 633.1,350.9 634.8,350.7 636.6,350.7ZM629.4,352.1 629.3,351.9 629.8,350.9 631.3,350.7 631.0,352.3ZM645.8,350.9 643.4,352.3 640.6,352.1 638.4,351.9 638.6,350.9 641.2,350.8 644.2,350.9 645.7,350.4ZM626.5,350.9 626.0,351.6 623.3,350.7 620.5,350.7 617.5,350.4 614.6,349.2 612.3,349.4 610.5,349.1 607.8,348.3 605.8,346.9 605.1,346.8 607.1,344.5 608.9,344.9 611.4,345.5 612.8,346.5 614.3,346.9 617.1,347.2 618.3,345.7 619.9,346.5 622.1,347.0 622.4,347.8 624.1,349.1 626.1,349.2 626.3,350.3 627.9,350.2 629.0,350.9 627.8,352.0ZM622.5,347.8 622.3,347.4 625.1,347.0 625.6,347.3 624.1,347.9ZM593.1,321.2 594.5,323.0 595.9,323.8 597.0,324.6 599.0,326.4 600.8,327.7 601.8,329.0 602.4,331.4 603.8,331.9 604.0,333.7 604.9,335.0 607.4,336.8 607.1,339.5 606.8,342.1 606.6,344.3 605.5,343.2 603.7,344.4 603.3,342.3 601.0,341.5 598.7,338.9 596.6,336.1 595.6,334.2 594.5,331.5 593.2,329.0 591.6,328.1 590.9,324.4 588.8,323.0 587.1,320.6 584.5,318.2 582.8,315.9 582.5,314.5 587.6,315.4 589.5,317.8 590.5,319.2ZM637.5,326.4 635.2,326.6 634.1,328.7 633.6,330.6 632.5,332.3 631.2,334.7 631.6,336.8 630.4,339.5 627.3,339.8 627.0,338.1 624.2,337.4 621.2,337.9 618.9,336.8 617.1,336.6 616.9,334.0 616.7,332.4 614.9,330.8 614.9,329.0 614.2,326.9 614.4,325.1 615.9,323.6 616.0,325.1 617.2,326.4 618.1,326.6 620.9,326.4 621.8,325.2 623.7,325.3 625.7,325.3 627.3,325.1 628.0,323.0 628.6,321.4 629.5,320.1 629.4,318.0 631.2,317.6 634.0,318.1 634.1,319.6 634.6,321.7 635.1,323.3ZM650.9,353.7 648.9,355.4 646.5,356.0 647.9,353.4 650.2,352.4 650.4,353.7ZM664.9,348.3 666.0,347.8 665.9,349.9 664.7,349.9ZM672.1,343.4 673.2,343.6 673.3,346.8 671.9,346.0ZM672.6,332.9 672.3,335.5 673.4,336.6 674.3,337.8 676.4,336.6 677.6,334.7 679.5,333.7 681.3,332.8 684.8,334.2 687.5,335.7 688.2,335.8 687.6,345.5 687.2,346.8 687.5,347.3 687.0,352.8 684.9,350.4 682.7,350.3 680.8,350.9 679.6,350.9 680.5,348.6 682.2,347.3 682.2,344.7 680.9,343.4 678.6,341.9 676.4,341.0 674.6,340.6 672.3,339.3 669.5,339.7 667.4,336.8 669.5,335.8 671.6,335.4 669.3,334.7 667.5,334.2 665.2,332.8 665.0,331.5 665.8,331.2 668.4,329.9 670.7,330.8 672.4,331.2ZM653.5,338.1 653.8,337.1 655.8,337.2 656.2,338.4 655.1,339.1ZM663.8,338.7 661.6,337.9 659.3,338.0 658.1,337.9 657.9,337.4 660.2,336.4 662.5,336.6 664.6,337.9ZM645.6,327.8 642.8,327.8 640.5,327.8 640.1,329.0 639.9,330.3 641.2,331.6 642.1,332.5 644.0,331.4 646.5,331.0 647.8,331.2 647.2,331.6 645.1,333.2 643.7,334.1 644.1,335.5 644.8,336.8 645.4,338.4 646.7,339.7 645.9,341.5 644.7,342.8 643.8,342.3 642.5,341.0 643.3,339.2 642.2,336.8 641.6,336.1 640.4,336.6 640.6,338.1 640.2,340.8 640.4,342.1 640.1,343.6 638.1,343.6 638.1,342.3 638.2,340.2 638.5,338.4 637.2,338.1 636.9,336.3 638.2,334.2 638.4,332.4 639.5,330.8 639.4,329.0 639.6,327.7 640.3,326.6 641.7,325.6 643.3,326.1 645.6,326.4 647.9,326.5 650.2,325.9 651.8,324.7 651.8,325.3 650.7,326.9 649.8,328.0 647.4,328.2ZM659.0,328.2 658.1,328.2 659.2,331.2 658.1,330.0 657.6,328.2 657.1,326.4 656.9,324.6 658.0,323.3 658.3,325.1 659.9,325.0 658.3,326.4 659.9,327.7Z" fill="#d7301f"/>
<path d="M694.2,338.3 696.1,339.1 697.2,340.2 698.9,342.6 701.1,344.2 703.3,344.7 703.3,346.4 701.4,346.6 701.7,348.3 703.4,350.2 704.5,352.5 706.1,352.8 707.3,354.3 709.5,355.8 708.2,356.8 706.2,355.9 704.0,355.5 702.6,355.3 701.1,353.7 699.7,352.3 698.8,350.2 696.5,349.4 695.4,348.9 694.3,349.1 693.2,350.4 692.7,350.9 692.1,352.6 689.8,353.0 687.0,352.8 687.5,347.3 687.2,346.8 687.6,345.5 688.2,335.8 688.9,336.1ZM721.8,346.8 720.5,346.5 719.5,344.7 719.1,343.4 720.7,344.2ZM708.8,342.1 709.2,343.4 710.9,342.3 712.5,341.8 712.4,340.2 713.8,340.0 714.2,341.5 712.9,343.4 710.7,344.7 708.4,345.5 706.5,345.2 704.7,344.4 704.6,343.6 707.3,343.4ZM715.8,341.0 715.1,341.5 713.8,339.2 711.6,337.1 710.8,335.8 712.6,336.8 714.6,338.9ZM701.1,334.7 701.1,334.2 703.0,334.2 702.7,334.7Z" fill="#fff7ec"/>
<path d="M650.2,352.4 651.7,351.3 654.3,350.9 655.7,350.9 653.7,352.4 650.9,353.7 650.4,353.7Z" fill="#fff7ec"/>
<path d="M653.5,312.5 652.1,311.0 651.7,313.1 652.5,314.4 651.8,314.5 651.2,313.6 649.0,313.1 648.4,311.0 648.8,310.2 646.9,309.4 643.9,311.0 643.8,308.6 645.6,307.6 646.6,306.5 647.7,307.7 648.7,307.6 649.6,306.8 650.5,305.9 651.4,305.5 651.1,303.4 653.4,306.8 654.3,309.9ZM635.1,302.9 636.6,301.6 636.6,299.5 637.5,299.5 637.3,301.6 635.6,303.1 633.5,306.3 632.5,307.2 632.3,306.5 633.2,305.0ZM648.3,303.9 647.3,303.1 648.6,302.6 649.2,303.4ZM644.1,303.7 645.0,301.6 645.6,300.4 646.4,301.0 646.3,304.7 645.9,305.4ZM647.5,299.6 647.6,301.3 646.5,304.2 646.7,301.8ZM649.6,302.9 649.2,301.0 648.2,299.2 649.7,299.7 650.7,302.4ZM645.0,300.5 643.0,301.7 642.7,300.5 642.4,297.9 644.1,298.8 645.3,299.0ZM650.2,299.7 649.3,298.2 647.7,296.2 650.0,296.3 651.5,300.0ZM639.7,295.8 638.5,293.7 640.3,293.9 641.3,296.1 640.7,297.1ZM642.0,284.8 640.3,287.9 640.2,289.0 641.1,290.6 641.2,291.9 642.5,292.7 643.7,291.6 645.0,292.4 646.4,292.9 647.1,294.8 647.3,296.2 646.0,295.3 644.4,293.7 643.6,294.6 642.1,292.9 641.3,292.7 639.9,293.1 638.8,292.8 638.7,291.6 639.4,291.0 638.4,291.2 637.7,290.2 636.5,287.7 636.1,286.4 637.3,286.9 637.1,285.6 637.0,283.3 637.0,280.7 639.4,281.1 640.6,280.7 641.4,283.8Z" fill="#fc8d59"/>
<path d="M670.6,435.7 672.4,436.4 674.2,436.1 676.9,435.8 675.2,438.4 673.0,440.7 672.1,441.7 671.2,441.2 669.1,442.8 667.6,442.5 667.6,441.0 668.2,439.2 668.6,436.8 669.6,435.3ZM691.3,360.1 691.4,365.1 692.2,366.6 695.0,368.1 694.5,369.5 695.1,373.2 695.2,376.0 696.1,379.3 697.8,380.7 698.9,381.3 699.9,382.6 700.4,384.3 700.8,387.5 702.9,388.0 702.7,389.6 703.4,391.3 705.2,393.8 706.4,395.1 705.7,398.2 704.8,400.6 704.9,402.7 704.6,403.9 701.9,408.2 700.0,411.2 697.2,413.9 695.9,415.0 693.6,417.4 691.9,419.0 688.7,422.3 686.2,425.9 685.7,427.0 680.9,428.0 675.6,431.2 674.5,429.8 673.5,429.3 671.4,429.6 669.8,430.5 668.1,429.3 666.4,429.3 664.8,428.4 664.5,425.7 665.3,423.0 664.3,422.0 662.5,422.1 664.3,420.2 664.3,418.3 662.5,420.7 660.6,421.1 663.1,418.1 665.0,415.7 665.6,413.9 663.7,416.3 659.3,419.4 658.9,419.8 658.0,420.2 657.4,419.1 658.0,415.7 657.5,414.4 657.0,413.0 653.4,412.6 652.1,411.3 647.1,411.8 642.8,413.3 639.9,413.4 635.5,415.2 633.0,417.6 629.3,417.6 625.1,417.7 622.1,419.1 619.3,420.6 616.5,420.6 614.1,418.7 614.5,416.7 616.2,416.0 617.6,412.6 617.8,409.2 617.7,407.4 617.7,404.2 617.4,401.4 616.3,397.3 617.9,397.7 618.7,396.9 618.1,394.1 618.0,391.7 619.4,388.0 620.8,386.0 620.8,387.8 621.9,386.1 623.0,385.6 627.1,382.8 629.1,383.1 631.6,382.0 634.5,381.3 637.6,380.2 639.7,377.2 640.9,376.0 641.3,373.4 643.1,371.8 644.4,374.2 644.7,372.1 646.6,371.6 647.5,369.0 649.1,366.9 651.1,365.6 653.4,364.9 655.1,366.4 655.5,368.7 656.3,367.7 657.7,367.9 659.0,367.9 659.4,365.6 661.0,363.5 662.8,361.5 666.9,360.6 667.1,358.8 669.1,359.8 672.4,360.9 674.7,360.4 676.5,360.9 675.7,363.5 673.9,364.8 673.5,367.7 675.1,370.3 677.2,371.6 679.6,373.2 680.5,375.2 683.4,374.6 685.5,370.8 686.6,366.9 687.2,363.0 687.9,362.0 689.0,357.7 690.0,357.0Z" fill="#fff7ec"/>
<path d="M706.7,451.2 705.5,452.3 704.7,452.0 705.5,451.0ZM729.1,436.7 731.7,436.1 730.2,438.0 727.7,439.7 725.0,441.5 723.4,442.6 723.5,443.3 721.4,443.5 718.5,444.8 716.4,446.6 714.2,448.6 711.0,450.1 708.7,450.6 707.7,450.5 707.0,449.7 705.1,449.3 705.8,448.2 708.3,446.4 710.8,445.3 713.8,443.7 716.8,442.5 719.1,441.2 721.3,440.4 722.3,439.8 724.5,438.0 726.6,436.7 728.7,435.0 729.9,434.8 729.0,436.1ZM741.6,421.0 741.2,422.7 740.3,425.1 742.0,424.4 742.3,425.7 741.9,427.3 743.4,428.3 745.9,427.1 746.8,427.5 743.9,430.1 742.8,431.2 740.1,432.2 740.2,432.6 736.3,435.5 732.6,437.6 732.2,436.8 733.8,435.3 735.2,433.3 734.3,432.6 733.7,431.6 734.8,431.0 736.6,430.1 738.3,428.3 739.2,426.4 740.1,424.1 739.4,421.7 739.2,421.0 739.5,419.0 740.2,418.9Z" fill="#fff7ec"/>
<path d="M734.6,381.4 737.1,383.3 739.2,385.7 739.9,387.3 738.5,387.3 736.5,385.4 734.8,383.3Z" fill="#fff7ec"/>
<path d="M768.2,374.3 769.4,375.8 768.3,376.7 766.3,376.3 766.5,374.7ZM773.2,371.3 773.0,372.4 770.7,373.4 769.9,372.9Z" fill="#fff7ec"/>
<path d="M735.2,357.2 733.5,356.7 733.3,355.9 735.5,356.7ZM729.8,354.5 729.7,353.3 732.4,354.1 732.1,354.9ZM732.9,353.6 732.3,350.9 733.1,351.5 733.8,354.1ZM726.2,351.5 724.6,351.5 724.1,349.9 725.9,350.2ZM729.3,350.7 727.8,349.4 727.7,348.6 729.4,349.6 730.6,351.2ZM724.3,348.1 723.2,346.5 724.4,346.8 725.4,348.1Z" fill="#fff7ec"/>
<path d="M746.4,375.0 746.3,375.5 745.6,375.5 745.7,375.0ZM745.2,372.1 744.4,371.8 744.4,370.8 745.6,371.3ZM744.6,369.8 743.4,369.8 743.5,368.2 744.9,368.4Z" fill="#fff7ec"/>
<path d="M-32.6,364.3 -31.3,364.3 -29.5,365.3 -30.6,365.6 -32.3,365.1Z" fill="#fff7ec"/>
<path d="M210.0,282.1 210.2,280.8 213.7,281.1 213.0,282.0ZM9.5,279.5 9.0,277.8 9.4,276.2 11.3,277.0 11.5,278.1ZM8.5,275.2 8.3,274.4 9.6,274.4 9.7,275.2ZM5.3,272.6 6.3,273.1 6.0,273.5 5.2,273.2ZM216.4,215.1 215.0,216.6 214.9,217.7 213.8,218.5 214.3,219.5 215.6,219.2 215.4,220.3 213.8,220.7 212.2,220.8 210.8,221.2 208.6,221.4 206.1,222.7 206.0,223.0 205.9,223.4 205.1,225.3 204.2,226.2 202.7,227.3 202.1,226.1 202.2,227.7 202.0,228.7 200.2,231.0 199.1,232.1 199.5,230.3 199.7,228.4 199.8,226.6 199.0,228.4 198.8,230.8 198.3,232.3 198.9,232.6 198.9,235.0 198.8,236.9 196.1,238.6 194.2,238.9 192.5,240.6 190.4,241.0 189.1,242.5 187.5,243.4 185.4,244.9 184.6,245.5 183.5,247.5 182.8,249.7 182.8,251.7 183.6,254.7 183.8,257.9 183.9,259.2 183.2,261.7 182.4,263.2 180.9,263.3 179.7,260.7 179.1,259.1 178.3,256.4 179.0,254.0 178.4,253.0 177.2,250.8 176.2,250.5 174.4,251.5 173.6,251.5 173.1,250.2 169.9,249.7 168.1,250.0 166.2,249.6 164.5,250.1 164.7,251.1 164.8,253.1 163.0,252.7 160.8,252.7 159.2,251.9 157.5,251.7 154.9,251.4 152.4,252.5 149.5,254.3 146.7,255.8 145.1,259.0 145.2,261.2 142.9,260.9 141.1,260.0 140.9,257.2 139.6,255.1 138.9,252.3 138.1,251.3 135.2,251.3 133.8,253.3 131.3,251.8 130.9,249.1 128.3,246.0 124.6,246.0 124.2,247.1 117.9,247.1 110.7,244.1 111.1,243.6 105.7,244.0 105.5,243.6 105.9,242.3 104.0,240.8 104.1,240.1 102.7,239.8 101.9,239.1 100.3,239.0 100.6,237.2 99.7,235.9 99.1,234.2 99.4,233.4 99.7,232.5 99.5,230.4 98.8,229.7 98.5,227.3 98.9,223.4 99.8,222.5 101.2,220.0 102.0,217.2 103.4,215.7 105.6,212.7 108.3,208.4 109.4,206.5 110.4,202.9 112.5,203.6 113.6,205.0 115.4,201.4 171.0,201.4 171.8,202.2 176.5,203.2 181.0,204.0 183.8,203.2 189.6,206.8 189.9,207.8 191.2,209.1 192.6,210.9 190.4,216.8 188.3,218.6 188.0,219.4 189.0,220.1 197.4,217.3 197.7,216.1 200.2,215.2 204.0,213.9 207.7,211.9 208.4,211.6 215.0,211.6 216.8,210.6 218.6,208.5 221.9,205.4 223.7,205.6 224.4,206.4 223.4,209.6 223.7,211.1 224.2,211.9 223.6,212.7 221.2,213.4 219.3,214.2ZM209.3,222.5 206.8,223.0 206.0,223.0 208.4,222.1 210.6,221.7ZM70.6,180.7 73.5,179.3 75.6,179.0 75.9,180.3 71.6,182.0ZM54.9,174.7 54.9,174.0 57.8,173.5 57.2,174.5ZM83.9,158.1 83.4,156.6 81.0,154.9 83.7,153.7 90.2,152.4 95.4,150.6 99.7,149.9 107.7,148.3 109.5,149.3 113.4,149.4 115.5,150.3 117.5,150.6 121.2,151.0 125.2,151.1 128.1,152.0 103.8,173.5 106.8,174.0 106.9,176.9 112.7,174.7 113.1,177.1 112.8,181.5 114.3,184.2 110.9,187.0 110.5,186.4 107.2,185.6 106.7,185.2 106.0,183.4 106.4,181.2 106.8,179.0 106.8,178.6 106.1,176.9 104.1,175.3 102.1,174.2 97.7,174.2 95.5,173.0 95.9,171.6 90.1,174.2 87.4,174.3 85.1,175.4 80.8,176.1 82.6,175.2 85.4,173.0 89.6,171.4 85.2,172.6 81.7,174.2 78.5,175.9 75.9,176.9 73.2,179.0 66.4,181.5 61.0,183.2 54.6,185.4 50.1,186.4 47.6,186.8 44.1,187.4 49.3,185.9 55.0,184.2 61.5,182.0 65.9,180.3 70.0,177.4 68.0,176.6 64.1,177.6 60.3,177.5 63.3,175.4 63.4,174.2 60.4,174.5 59.9,173.0 61.6,170.4 65.2,168.3 67.9,167.1 71.3,167.0 74.2,166.0 77.7,165.0 79.4,163.4 76.5,163.6 71.4,163.6 69.8,163.4 69.9,162.0 70.1,161.1 75.0,159.8 80.6,158.8 83.0,159.5ZM56.7,166.4 57.5,165.7 60.5,165.7 61.7,166.4 59.0,167.1Z" fill="url(#hatch)" stroke="#c6c6c6" stroke-opacity="1"/>
<path d="M113.2,202.9 111.9,202.9 110.3,201.9 109.3,201.0 108.2,199.6 106.9,198.6 107.1,197.0 110.9,198.4 112.0,198.9 113.2,201.0ZM104.7,188.6 107.0,188.9 104.5,193.3 103.4,191.4ZM140.9,152.5 145.7,151.3 152.0,150.1 151.5,151.9 155.6,151.3 155.8,152.6 161.8,151.7 166.5,153.6 167.8,155.7 170.6,156.3 176.0,155.9 177.6,157.9 180.5,155.7 185.5,154.8 189.4,156.1 194.5,156.1 198.4,154.6 200.5,155.1 199.1,157.3 203.1,155.0 202.8,153.1 201.1,154.4 196.0,153.5 197.1,152.2 201.0,151.5 202.8,152.6 203.4,150.6 207.4,148.0 210.0,147.0 211.4,148.5 210.3,151.3 210.3,152.4 210.2,154.6 214.2,153.7 214.1,157.3 219.1,153.9 221.9,151.7 226.6,151.7 226.4,153.9 223.4,156.1 223.4,157.9 218.5,159.5 214.2,159.1 212.9,161.3 210.7,162.0 206.4,164.3 203.0,165.5 201.1,166.3 197.7,167.6 193.7,169.7 191.3,171.6 188.2,174.2 187.2,177.2 189.4,177.4 188.1,181.5 192.4,181.5 195.5,183.9 199.5,185.6 204.5,186.0 201.9,191.4 202.3,193.3 203.0,195.6 204.6,195.9 206.9,194.4 207.9,191.8 209.2,189.4 208.9,187.2 213.5,185.6 217.0,182.7 218.6,180.3 218.6,177.8 216.9,178.0 216.9,176.6 220.5,174.1 219.9,172.3 221.7,170.4 222.6,168.5 226.5,168.8 229.3,169.2 232.2,170.4 232.5,171.6 235.9,171.7 234.3,174.2 233.5,176.9 235.8,177.8 239.0,177.1 241.6,175.4 244.5,173.3 244.8,176.6 245.6,179.0 245.6,182.6 246.8,185.2 248.2,186.4 250.7,187.6 251.2,188.9 252.5,190.6 253.2,192.6 253.0,193.8 249.7,195.4 246.8,195.6 243.0,198.1 239.2,198.6 235.8,198.1 230.1,198.4 227.3,200.7 224.7,201.7 221.6,203.6 217.3,207.0 220.3,205.5 224.3,202.8 226.6,201.8 231.0,200.8 233.3,202.0 229.4,203.8 228.3,204.0 230.8,204.5 231.9,204.1 230.2,206.2 230.5,208.5 231.7,209.1 233.2,209.6 235.5,209.4 236.5,209.1 239.4,206.4 239.2,208.3 240.2,209.1 238.6,210.1 237.0,210.9 234.6,211.8 231.1,212.7 228.8,213.9 226.7,215.2 225.9,215.7 225.1,214.7 226.0,212.9 229.1,210.9 230.2,209.4 227.7,210.7 226.5,211.0 224.4,211.5 224.2,211.9 223.7,211.1 223.4,209.6 224.4,206.4 223.7,205.6 221.9,205.4 218.6,208.5 216.8,210.6 215.0,211.6 208.4,211.6 207.7,211.9 204.0,213.9 200.2,215.2 197.7,216.1 197.4,217.3 189.0,220.1 188.0,219.4 188.3,218.6 190.4,216.8 192.6,210.9 191.2,209.1 189.9,207.8 189.6,206.8 183.8,203.2 181.0,204.0 176.5,203.2 171.8,202.2 171.0,201.4 115.4,201.4 115.0,200.7 114.2,199.4 113.5,198.1 111.0,196.9 109.0,196.0 110.8,193.3 111.2,190.6 110.3,188.9 110.3,188.1 110.9,187.0 114.3,184.2 112.8,181.5 113.1,177.1 112.7,174.7 106.9,176.9 106.8,174.0 103.8,173.5 128.1,152.0 131.2,152.3 133.6,153.7 137.4,152.6ZM168.2,151.3 177.5,150.2 169.5,150.0 173.6,148.5 169.7,147.6 174.0,145.3 180.8,144.2 183.8,145.1 190.1,144.5 194.1,145.9 191.7,149.1 195.8,150.8 193.6,152.4 186.9,153.3 182.5,153.5 177.5,154.4 171.6,154.4 169.0,152.8ZM205.0,148.0 197.9,147.0 201.1,143.8 206.9,142.8 208.8,144.9ZM176.5,143.8 171.9,145.7 167.0,147.8 161.9,148.7 159.8,147.1 162.0,144.9 167.6,142.2 172.8,141.8ZM194.9,140.9 185.9,142.0 180.9,140.3 184.3,138.3 189.9,138.1 197.8,137.3 200.7,139.3ZM211.6,140.5 201.3,140.7 203.7,138.7 209.9,137.3 214.0,137.7ZM174.6,138.7 176.8,137.7 183.6,136.2 188.6,136.4 180.2,139.1ZM196.6,133.9 201.3,134.3 198.1,136.0 193.2,135.8ZM217.5,134.8 209.6,134.1 211.0,132.6 218.3,132.0 220.9,133.3ZM231.2,207.5 232.8,207.7 235.8,207.9 234.4,209.1 231.9,208.5ZM252.0,195.0 253.2,194.9 251.9,196.6 249.0,199.4 251.1,199.0 252.7,200.4 255.0,200.7 255.6,202.2 253.7,204.0 255.4,203.7 255.7,205.1 254.2,207.4 252.4,207.0 252.9,205.5 249.4,206.8 251.0,205.0 247.3,205.1 244.9,204.8 242.2,204.9 244.9,202.7 243.6,202.6 246.3,200.1 248.7,197.1ZM233.6,199.1 237.4,199.9 238.6,201.2 235.1,200.7ZM215.2,167.1 219.6,167.4 217.3,168.1 214.2,167.4ZM215.9,162.0 219.0,164.1 220.4,165.5 213.5,167.1 208.3,165.7 209.2,163.6 214.3,160.7ZM231.5,163.9 227.7,164.3 225.7,163.5 230.1,161.8 234.2,161.3 236.1,159.1 239.2,156.8 238.9,155.0 235.4,153.5 232.6,151.5 229.8,151.9 227.1,151.1 221.1,151.3 217.8,150.2 216.3,149.1 217.5,147.0 221.2,144.5 227.1,143.2 228.1,144.0 234.8,143.4 239.2,143.8 241.2,144.2 242.0,146.3 245.7,148.0 247.8,149.8 249.8,150.3 250.3,152.4 250.4,155.0 253.7,156.8 256.5,157.9 257.3,158.8 254.0,161.1 248.9,162.5 245.7,159.5 246.2,162.7 247.6,165.7 247.8,166.4 244.8,167.1 241.2,165.4 243.2,168.5 245.4,170.2 240.2,169.0 237.6,167.5 234.9,165.5ZM208.6,146.8 211.4,143.8 216.0,142.4 220.9,143.0 217.8,145.5ZM215.1,139.5 218.9,139.5 217.2,141.1 213.0,140.7ZM237.9,141.5 229.9,141.8 219.6,141.1 220.2,139.7 222.7,138.1 226.9,137.7 228.4,136.4 233.5,134.4 239.9,132.0 239.2,130.2 240.8,127.8 253.5,126.4 267.5,126.1 277.8,127.4 271.2,129.4 260.6,131.6 252.6,133.9 245.6,136.8 240.8,138.3 227.0,137.9 227.4,139.5 237.0,139.1 240.3,139.7ZM231.7,134.1 224.3,132.4 225.2,130.6 230.9,128.9 235.5,129.7 236.3,132.0Z" fill="#fff7ec"/>
<path d="M145.2,261.2 143.4,264.2 142.9,266.8 142.0,270.9 142.7,274.3 144.8,278.8 145.3,280.1 147.4,280.7 148.2,281.6 151.5,280.9 154.3,280.3 157.1,278.6 157.6,277.1 158.3,274.7 160.2,273.4 163.5,272.7 166.1,272.6 166.7,273.7 164.7,276.2 164.2,278.1 163.7,280.1 162.9,280.9 162.0,280.8 160.9,282.0 160.1,282.4 155.9,282.4 155.7,283.9 154.8,283.9 156.6,287.0 153.6,287.1 152.4,289.8 152.0,291.0 150.6,288.5 148.5,286.9 145.7,286.8 142.6,288.1 139.7,287.3 135.3,285.0 131.7,282.9 130.4,282.1 127.6,281.1 126.0,279.2 124.2,277.1 123.5,275.7 124.6,275.1 124.9,272.7 123.0,268.4 120.6,265.0 118.4,262.1 118.3,259.2 115.7,256.1 114.0,253.8 113.1,250.4 112.4,247.2 110.1,245.9 109.3,248.0 109.7,250.6 110.5,253.4 111.5,255.8 112.2,257.5 113.5,261.1 114.2,264.2 114.8,265.9 115.9,266.3 116.3,268.4 115.1,269.2 114.5,267.6 111.0,264.7 111.3,261.1 108.9,259.1 107.8,258.1 106.4,256.2 108.6,255.8 108.8,254.5 107.7,252.2 106.7,249.6 106.2,245.8 105.7,244.0 111.1,243.6 110.7,244.1 117.9,247.1 124.2,247.1 124.6,246.0 128.3,246.0 130.9,249.1 131.3,251.8 133.8,253.3 135.2,251.3 138.1,251.3 138.9,252.3 139.6,255.1 140.9,257.2 141.1,260.0 142.9,260.9Z" fill="#fff7ec"/>
<path d="M162.9,280.9 162.1,283.3 161.6,285.9 160.0,287.5 159.4,287.5 160.1,282.4 160.9,282.0 162.0,280.8Z" fill="url(#hatch)" stroke="#c6c6c6" stroke-opacity="1"/>
<path d="M160.0,287.5 160.7,288.0 161.6,288.0 159.1,290.6 158.6,291.3 158.1,291.9 156.7,293.1 154.7,292.7 152.0,291.0 152.4,289.8 153.6,287.1 156.6,287.0 154.8,283.9 155.7,283.9 155.9,282.4 160.1,282.4 159.4,287.5Z" fill="#fff7ec"/>
<path d="M161.6,288.0 162.2,287.6 164.8,287.7 166.9,287.2 169.0,287.3 170.5,287.6 172.9,289.8 170.9,290.5 168.6,290.9 165.9,292.3 164.4,294.3 163.0,295.0 162.6,294.1 161.9,294.0 160.4,292.6 158.6,291.3 159.1,290.6Z" fill="#fff7ec"/>
<path d="M172.9,289.8 172.1,292.3 171.7,295.0 170.9,297.6 170.8,300.4 170.1,300.8 168.0,300.3 166.2,300.1 164.6,297.6 163.1,296.3 162.0,295.3 163.0,295.0 164.4,294.3 165.9,292.3 168.6,290.9 170.9,290.5Z" fill="url(#hatch)" stroke="#c6c6c6" stroke-opacity="1"/>
<path d="M170.8,300.4 172.1,302.9 173.2,304.0 172.3,305.2 172.3,307.1 172.2,308.0 171.3,307.1 170.4,307.1 170.3,305.7 168.5,303.9 168.0,303.0 167.3,304.0 166.0,302.9 165.8,300.5 166.2,300.1 168.0,300.3 170.1,300.8Z" fill="#fff7ec"/>
<path d="M173.2,304.0 174.0,304.7 175.5,306.0 177.1,305.9 179.3,304.6 180.2,303.9 182.5,304.3 185.0,306.3 185.3,308.2 184.7,309.1 183.6,310.2 182.9,309.4 182.5,308.0 182.4,307.1 181.3,305.6 180.1,305.6 179.2,306.5 178.0,307.4 178.8,308.9 178.8,309.5 176.7,310.2 176.5,309.1 174.9,308.9 174.5,307.8 172.2,308.0 172.3,307.1 172.3,305.2Z" fill="#fff7ec"/>
<path d="M161.9,294.0 160.3,294.5 158.5,293.7 157.3,293.5 156.7,293.1 158.1,291.9 158.6,291.3 160.4,292.6Z" fill="#fff7ec"/>
<path d="M185.0,306.3 186.0,307.8 186.3,308.2 187.2,306.3 189.2,304.2 189.4,301.8 191.1,300.1 192.7,299.5 195.7,298.8 197.4,297.8 198.7,296.5 199.9,297.1 199.4,298.0 197.0,300.0 195.2,303.4 196.4,307.1 196.1,308.4 197.1,310.7 201.5,310.7 203.1,313.1 207.6,312.8 206.7,315.2 206.5,318.5 207.7,320.1 207.9,323.0 208.6,325.8 206.2,324.4 203.5,324.6 201.7,324.6 201.7,326.2 203.2,326.4 202.6,330.3 201.2,329.4 201.6,340.0 199.9,338.9 201.3,336.1 197.2,334.7 194.0,333.7 191.2,330.4 189.2,329.3 186.8,328.0 184.1,327.3 181.1,325.3 181.2,324.3 182.0,322.2 184.4,319.1 184.2,318.0 184.2,314.6 184.6,312.7 184.0,310.7 183.6,310.2 184.7,309.1 185.3,308.2Z" fill="#fff7ec"/>
<path d="M199.4,298.0 197.9,300.0 198.6,300.4 199.9,300.3 201.6,299.2 202.0,297.4 202.7,297.1 202.8,298.7 203.9,299.0 205.9,299.7 206.3,301.3 209.2,301.3 211.3,301.3 213.6,302.6 215.5,301.7 218.3,301.0 220.8,301.0 219.1,301.8 219.8,302.9 221.4,303.1 223.2,304.4 224.9,306.5 225.0,306.8 223.2,309.3 224.1,310.5 222.1,311.5 221.5,313.5 223.0,315.4 222.3,317.2 218.3,318.4 218.1,319.3 214.9,318.3 214.8,322.2 216.6,323.3 215.0,324.8 212.9,325.9 211.7,326.9 209.9,327.0 208.6,325.8 207.9,323.0 207.7,320.1 206.5,318.5 206.7,315.2 207.6,312.8 203.1,313.1 201.5,310.7 197.1,310.7 196.1,308.4 196.4,307.1 195.2,303.4 197.0,300.0Z" fill="#fff7ec"/>
<path d="M225.0,306.8 226.7,308.1 228.0,309.9 229.0,311.2 230.9,313.2 231.4,313.5 231.0,315.2 229.1,318.5 230.7,320.2 232.5,323.9 229.1,325.1 226.8,325.6 224.6,322.2 225.5,318.8 224.6,317.2 224.4,315.4 223.0,315.4 221.5,313.5 222.1,311.5 224.1,310.5 223.2,309.3Z" fill="#fff7ec"/>
<path d="M231.4,313.5 235.9,313.6 238.5,313.8 237.5,317.2 237.9,320.6 236.9,322.9 235.8,322.5 233.9,324.2 232.5,323.9 230.7,320.2 229.1,318.5 231.0,315.2Z" fill="#fff7ec"/>
<path d="M238.5,313.8 242.4,316.1 243.8,317.8 242.0,320.9 240.9,323.3 238.8,323.0 236.9,322.9 237.9,320.6 237.5,317.2Z" fill="url(#hatch)" stroke="#c6c6c6" stroke-opacity="1"/>
<path d="M243.8,317.8 245.1,318.8 246.4,323.8 247.6,324.7 246.8,326.6 247.5,328.5 251.2,329.8 251.0,332.7 252.1,330.8 253.6,330.6 256.7,331.9 259.5,333.4 260.7,335.5 262.5,335.3 266.5,336.6 269.5,336.4 273.0,337.9 274.1,338.7 276.9,341.3 278.8,342.3 281.7,343.4 281.8,344.2 282.8,347.7 282.6,350.0 280.9,354.2 279.3,356.4 277.9,357.6 274.7,363.0 273.8,367.7 273.9,372.0 273.7,375.8 272.6,380.2 271.6,382.0 270.3,386.5 268.2,388.8 265.5,389.0 262.2,389.9 258.7,391.6 255.3,394.3 254.1,395.6 254.1,397.4 254.7,401.1 254.3,403.7 252.6,405.5 250.4,410.5 248.3,413.0 246.1,417.2 246.1,414.4 242.5,411.3 239.2,409.6 235.4,407.9 238.7,403.2 243.0,399.9 242.4,396.9 240.5,395.9 240.7,391.8 238.2,391.6 236.9,387.3 232.3,386.7 231.1,381.6 231.7,378.8 232.1,376.0 229.9,373.9 229.8,371.6 225.6,371.5 224.5,365.1 221.4,364.3 219.1,363.0 215.6,361.7 212.9,359.6 212.9,354.6 209.7,354.9 205.0,357.7 203.2,357.6 200.9,357.7 200.7,353.8 197.0,355.1 195.1,352.5 193.0,347.5 194.3,344.9 194.9,342.5 199.7,340.0 201.6,340.0 201.2,329.4 202.6,330.3 203.2,326.4 201.7,326.2 201.7,324.6 203.5,324.6 206.2,324.4 208.6,325.8 209.9,327.0 211.7,326.9 212.9,325.9 215.0,324.8 216.6,323.3 214.8,322.2 214.9,318.3 218.1,319.3 218.3,318.4 222.3,317.2 223.0,315.4 224.4,315.4 224.6,317.2 225.5,318.8 224.6,322.2 226.8,325.6 229.1,325.1 232.5,323.9 233.9,324.2 235.8,322.5 236.9,322.9 238.8,323.0 240.9,323.3 242.0,320.9Z" fill="#fff7ec"/>
<path d="M246.1,417.2 244.9,419.5 243.3,420.4 240.6,420.2 236.8,419.1 235.3,417.6 235.0,413.9 235.4,407.9 239.2,409.6 242.5,411.3 246.1,414.4Z" fill="#fff7ec"/>
<path d="M229.3,466.6 231.1,468.6 233.7,469.1 237.1,470.8 235.1,472.0 233.8,471.6 230.6,471.4 228.2,465.8ZM235.7,419.4 238.7,421.5 240.2,423.8 239.3,428.3 237.1,429.8 232.5,430.7 229.8,430.3 230.3,431.4 231.2,434.8 229.7,436.3 225.2,435.5 226.1,438.6 228.3,438.9 229.6,440.4 227.8,441.0 226.7,440.7 227.0,442.0 227.5,445.3 227.1,446.5 224.0,448.6 224.4,450.2 228.5,451.8 228.9,453.4 226.7,457.3 225.9,459.6 226.3,463.1 228.3,465.0 228.1,464.9 224.7,464.2 220.8,464.2 219.2,461.9 217.4,460.9 215.6,457.9 216.2,455.3 216.0,451.5 215.5,447.7 213.9,443.8 212.2,439.9 210.6,434.8 210.3,430.9 209.9,427.0 210.2,423.0 210.6,418.3 208.2,412.6 208.0,408.4 208.0,403.2 210.1,398.2 208.9,393.0 211.5,391.7 211.4,388.6 213.3,386.0 217.9,388.7 218.5,386.5 221.5,387.1 225.6,391.2 230.3,393.3 233.7,395.4 232.1,400.3 237.2,400.6 238.1,400.5 240.5,395.9 242.4,396.9 243.0,399.9 238.7,403.2 235.4,407.9 235.0,413.9 235.3,417.6Z" fill="#fff7ec"/>
<path d="M235.0,472.1 234.2,473.8 230.3,472.4 226.1,471.6 223.3,469.9 225.1,469.4 225.9,468.6 224.8,466.6 226.2,465.7 228.2,465.8 230.6,471.4 233.8,471.6 235.1,472.0ZM226.0,464.9 223.9,466.4 224.2,468.8 221.3,467.6 218.1,466.2 214.3,462.9 211.7,459.1 210.3,455.3 208.1,450.7 209.6,448.4 208.8,445.1 207.6,441.2 207.0,438.1 206.7,436.1 206.7,433.1 205.4,429.6 204.5,427.2 204.9,425.0 205.6,421.2 205.7,417.8 205.8,415.3 205.6,412.6 204.2,408.2 204.9,407.1 204.3,403.3 204.6,399.7 204.8,397.8 204.7,395.4 204.4,390.8 203.8,389.4 204.4,386.7 203.9,381.8 203.0,377.2 202.9,376.9 203.9,376.3 204.8,374.7 206.3,378.6 207.7,381.3 208.7,385.2 211.4,388.6 211.5,391.7 208.9,393.0 210.1,398.2 208.0,403.2 208.0,408.4 208.2,412.6 210.6,418.3 210.2,423.0 209.9,427.0 210.3,430.9 210.6,434.8 212.2,439.9 213.9,443.8 215.5,447.7 216.0,451.5 216.2,455.3 215.6,457.9 217.4,460.9 219.2,461.9 220.8,464.2 224.7,464.2 228.1,464.9 228.3,465.0Z" fill="#fff7ec"/>
<path d="M202.9,376.9 200.5,375.1 198.9,373.5 197.2,372.5 193.5,370.4 191.3,369.1 188.1,365.3 188.5,364.8 187.7,363.0 186.0,360.5 184.8,358.0 182.2,352.8 180.9,350.2 179.7,347.8 178.8,346.8 177.0,345.2 175.8,344.0 176.0,342.3 175.4,341.2 176.0,339.7 177.4,338.1 177.7,337.9 177.4,340.5 179.4,340.6 180.8,342.1 182.3,340.8 182.5,337.9 186.0,335.8 188.5,333.0 189.2,329.3 191.2,330.4 194.0,333.7 197.2,334.7 201.3,336.1 199.9,338.9 201.6,340.0 199.7,340.0 194.9,342.5 194.3,344.9 193.0,347.5 195.1,352.5 197.0,355.1 200.7,353.8 200.9,357.7 203.2,357.6 205.5,361.7 205.0,364.8 204.4,369.0 205.5,371.3 204.8,374.7 203.9,376.3Z" fill="#fff7ec"/>
<path d="M177.7,337.9 178.4,337.6 178.6,335.0 177.7,335.8 176.0,334.7 176.6,332.9 176.2,331.7 177.4,330.0 178.2,328.9 178.1,326.9 179.1,326.4 181.1,325.3 184.1,327.3 186.8,328.0 189.2,329.3 188.5,333.0 186.0,335.8 182.5,337.9 182.3,340.8 180.8,342.1 179.4,340.6 177.4,340.5Z" fill="#fff7ec"/>
<path d="M204.8,374.7 205.5,371.3 204.4,369.0 205.0,364.8 205.5,361.7 203.2,357.6 205.0,357.7 209.7,354.9 212.9,354.6 212.9,359.6 215.6,361.7 219.1,363.0 221.4,364.3 224.5,365.1 225.6,371.5 229.8,371.6 229.9,373.9 232.1,376.0 231.7,378.8 231.1,381.6 228.8,379.4 222.7,380.3 222.0,382.6 221.5,387.1 218.5,386.5 217.9,388.7 213.3,386.0 211.4,388.6 208.7,385.2 207.7,381.3 206.3,378.6Z" fill="#fff7ec"/>
<path d="M221.5,387.1 222.0,382.6 222.7,380.3 228.8,379.4 231.1,381.6 232.3,386.7 236.9,387.3 238.2,391.6 240.7,391.8 240.5,395.9 238.1,400.5 237.2,400.6 232.1,400.3 233.7,395.4 230.3,393.3 225.6,391.2Z" fill="#fff7ec"/>
<path d="M196.5,277.3 199.2,277.4 200.2,277.5 200.1,279.4 199.3,280.4 199.7,281.8 198.0,281.5 195.2,281.5 193.7,281.1 194.5,280.3 197.0,280.8 198.5,280.5 197.6,279.1 197.9,278.2Z" fill="#fff7ec"/>
<path d="M200.2,277.5 202.6,277.3 204.4,277.7 206.0,278.6 204.9,279.2 206.9,279.5 207.6,280.4 206.9,281.5 204.0,280.8 202.6,281.5 201.2,281.5 200.4,283.0 199.7,281.8 199.3,280.4 200.1,279.4Z" fill="#fff7ec"/>
<path d="M255.3,134.1 265.4,131.1 271.5,129.0 279.6,127.8 294.1,127.0 308.7,125.6 319.0,125.3 328.8,126.2 335.1,127.8 346.8,128.7 340.0,131.1 335.5,134.8 334.6,137.1 331.8,140.7 330.4,143.8 327.3,147.0 326.6,150.2 320.1,150.0 324.7,151.7 319.0,154.6 312.0,155.7 306.5,157.3 300.4,160.4 297.4,161.1 292.8,162.5 289.9,166.0 285.7,170.7 281.8,174.7 278.7,172.6 274.5,171.4 273.4,169.5 272.1,166.0 271.5,164.3 271.3,161.3 270.7,158.1 272.1,155.7 277.1,153.9 277.4,153.0 272.0,152.4 272.8,150.6 273.4,149.5 273.9,147.0 273.1,145.3 273.1,142.8 272.7,139.7 266.6,138.5 260.3,138.7 258.4,137.7 255.9,136.8 259.4,135.8 255.7,135.2Z" fill="url(#hatch)" stroke="#c6c6c6" stroke-opacity="1"/>
<path d="M171.0,271.9 173.4,269.7 177.2,268.5 180.0,268.4 181.4,268.9 183.5,270.0 186.2,270.7 188.6,272.6 191.0,273.6 191.8,274.8 193.5,275.1 194.9,276.1 192.6,277.0 191.0,276.8 188.3,277.0 186.7,277.1 188.1,275.8 186.3,274.9 185.2,272.8 182.1,272.2 181.2,271.4 179.5,271.4 177.8,270.5 177.3,269.7 175.1,271.0 173.1,271.8Z" fill="#fff7ec"/>
<path d="M184.7,281.2 185.9,280.7 188.1,280.9 189.6,281.6 189.3,282.2 187.2,282.6 185.5,282.1Z" fill="#fff7ec"/>
<path d="M197.5,274.3 196.3,274.3 196.4,273.9 197.6,273.6ZM188.1,266.3 187.2,265.8 187.3,263.9 188.1,264.5ZM191.7,264.5 191.3,263.9 191.1,262.6 191.9,263.2ZM189.7,260.0 189.7,258.7 190.6,259.8 190.0,261.1ZM186.6,259.8 186.5,259.2 188.7,259.1 188.6,259.6Z" fill="#fff7ec"/>
<path d="M220.8,301.0 223.0,300.8 222.8,302.5 220.7,302.7Z" fill="#fff7ec"/>
<path d="M216.0,300.9 215.4,300.3 216.1,299.6 216.6,300.3ZM205.9,297.3 206.4,296.8 206.7,297.3 206.3,297.7ZM204.3,297.1 204.8,296.6 205.2,297.1 204.7,297.6ZM202.1,296.3 202.5,296.0 202.8,296.3 202.5,296.7ZM221.7,284.3 222.2,283.9 222.5,284.3 222.1,284.8ZM219.6,283.8 220.0,283.4 220.4,283.8 220.0,284.2ZM215.0,282.6 215.5,282.2 215.9,282.6 215.4,283.1ZM221.4,297.9 221.0,297.4 221.5,296.9 221.9,297.4ZM226.0,294.6 226.6,294.1 227.0,294.6 226.5,295.2ZM222.4,294.4 222.8,293.9 223.2,294.4 222.7,294.9ZM222.9,292.7 223.4,292.1 223.9,292.7 223.3,293.3ZM222.8,290.7 223.5,290.0 224.1,290.7 223.4,291.5ZM222.3,288.8 222.9,288.2 223.3,288.8 222.8,289.3ZM221.8,286.7 222.6,285.9 223.2,286.7 222.5,287.5Z" fill="#fff7ec"/>
</g>
<g class="legend">
<rect x="158" y="538" width="47" height="10" fill="url(#hatch)" stroke="#cfcfcf" stroke-width="0.7"/>
<text x="181.5" y="530.3" text-anchor="middle">No data</text>
<line x1="181.5" y1="534.5" x2="181.5" y2="538" stroke="#cfcfcf" stroke-width="0.7"/>
<rect x="224.0" y="538.0" width="58.6" height="10.0" fill="#fff7ec" stroke="#b8b0a8" stroke-width="0.6"/>
<rect x="282.6" y="538.0" width="58.6" height="10.0" fill="#fee8c8" stroke="#b8b0a8" stroke-width="0.6"/>
<rect x="341.2" y="538.0" width="58.6" height="10.0" fill="#fdd49e" stroke="#b8b0a8" stroke-width="0.6"/>
<rect x="399.8" y="538.0" width="58.6" height="10.0" fill="#fdbb84" stroke="#b8b0a8" stroke-width="0.6"/>
<rect x="458.4" y="538.0" width="58.6" height="10.0" fill="#fc8d59" stroke="#b8b0a8" stroke-width="0.6"/>
<rect x="517.0" y="538.0" width="58.6" height="10.0" fill="#ef6548" stroke="#b8b0a8" stroke-width="0.6"/>
<rect x="575.6" y="538.0" width="58.6" height="10.0" fill="#d7301f" stroke="#b8b0a8" stroke-width="0.6"/>
<path d="M634.2,538.0 L687.8,538.0 L692.8,543.0 L687.8,548.0 L634.2,548.0 Z" fill="#990000" stroke="#8a3a30" stroke-width="0.5"/>
<line x1="224.0" y1="535" x2="224.0" y2="548.0" stroke="#8f8a85" stroke-width="0.7"/>
<text x="220.0" y="530.3" text-anchor="start">0</text>
<line x1="282.6" y1="535" x2="282.6" y2="548.0" stroke="#8f8a85" stroke-width="0.7"/>
<text x="282.6" y="530.3" text-anchor="middle">30</text>
<line x1="341.2" y1="535" x2="341.2" y2="548.0" stroke="#8f8a85" stroke-width="0.7"/>
<text x="341.2" y="530.3" text-anchor="middle">100</text>
<line x1="399.8" y1="535" x2="399.8" y2="548.0" stroke="#8f8a85" stroke-width="0.7"/>
<text x="399.8" y="530.3" text-anchor="middle">300</text>
<line x1="458.4" y1="535" x2="458.4" y2="548.0" stroke="#8f8a85" stroke-width="0.7"/>
<text x="458.4" y="530.3" text-anchor="middle">1,000</text>
<line x1="517.0" y1="535" x2="517.0" y2="548.0" stroke="#8f8a85" stroke-width="0.7"/>
<text x="517.0" y="530.3" text-anchor="middle">3,000</text>
<line x1="575.6" y1="535" x2="575.6" y2="548.0" stroke="#8f8a85" stroke-width="0.7"/>
<text x="575.6" y="530.3" text-anchor="middle">10,000</text>
<line x1="634.2" y1="535" x2="634.2" y2="548.0" stroke="#8f8a85" stroke-width="0.7"/>
<text x="634.2" y="530.3" text-anchor="middle">30,000</text>
</g>
</svg>
<div class="footer l" id="fl"><b>Data source:</b> World Health Organization - Global Health Observatory (2025)</div>
<div class="footer r" id="fr">OurWorldinData.org/vaccination | CC BY</div>
</body>
</html>
